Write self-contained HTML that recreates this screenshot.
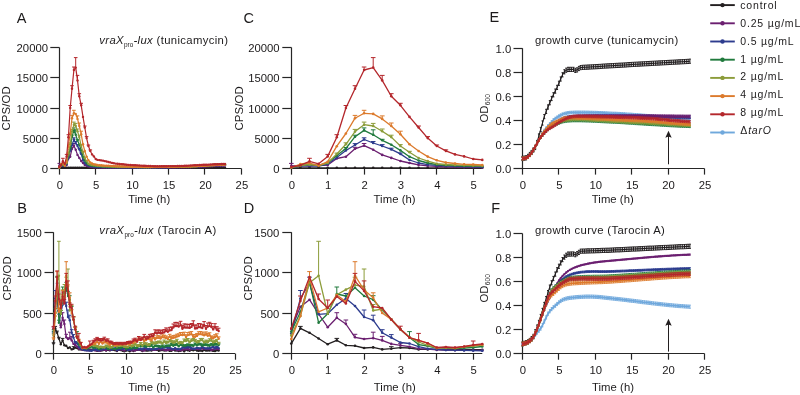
<!DOCTYPE html>
<html><head><meta charset="utf-8"><style>
html,body{margin:0;padding:0;background:#fff;width:800px;height:395px;overflow:hidden}
svg{display:block;font-family:"Liberation Sans",sans-serif;will-change:transform}
text{font-family:"Liberation Sans",sans-serif}
</style></head><body>
<svg width="800" height="395" viewBox="0 0 800 395" font-family="Liberation Sans, sans-serif">
<rect width="800" height="395" fill="#fff"/>
<defs><marker id="c231f2012" markerUnits="userSpaceOnUse" markerWidth="10" markerHeight="10" refX="5" refY="5" overflow="visible"><circle cx="5" cy="5" r="1.2" fill="#231f20"/></marker><marker id="c6b1f7012" markerUnits="userSpaceOnUse" markerWidth="10" markerHeight="10" refX="5" refY="5" overflow="visible"><circle cx="5" cy="5" r="1.2" fill="#6b1f70"/></marker><marker id="c2d3c8e12" markerUnits="userSpaceOnUse" markerWidth="10" markerHeight="10" refX="5" refY="5" overflow="visible"><circle cx="5" cy="5" r="1.2" fill="#2d3c8e"/></marker><marker id="c207a3d12" markerUnits="userSpaceOnUse" markerWidth="10" markerHeight="10" refX="5" refY="5" overflow="visible"><circle cx="5" cy="5" r="1.2" fill="#207a3d"/></marker><marker id="c8c9c3a12" markerUnits="userSpaceOnUse" markerWidth="10" markerHeight="10" refX="5" refY="5" overflow="visible"><circle cx="5" cy="5" r="1.2" fill="#8c9c3a"/></marker><marker id="cdc7a2c12" markerUnits="userSpaceOnUse" markerWidth="10" markerHeight="10" refX="5" refY="5" overflow="visible"><circle cx="5" cy="5" r="1.2" fill="#dc7a2c"/></marker><marker id="cb4272c12" markerUnits="userSpaceOnUse" markerWidth="10" markerHeight="10" refX="5" refY="5" overflow="visible"><circle cx="5" cy="5" r="1.2" fill="#b4272c"/></marker><marker id="c231f2013" markerUnits="userSpaceOnUse" markerWidth="10" markerHeight="10" refX="5" refY="5" overflow="visible"><circle cx="5" cy="5" r="1.3" fill="#231f20"/></marker><marker id="c6b1f7013" markerUnits="userSpaceOnUse" markerWidth="10" markerHeight="10" refX="5" refY="5" overflow="visible"><circle cx="5" cy="5" r="1.3" fill="#6b1f70"/></marker><marker id="c2d3c8e13" markerUnits="userSpaceOnUse" markerWidth="10" markerHeight="10" refX="5" refY="5" overflow="visible"><circle cx="5" cy="5" r="1.3" fill="#2d3c8e"/></marker><marker id="c207a3d13" markerUnits="userSpaceOnUse" markerWidth="10" markerHeight="10" refX="5" refY="5" overflow="visible"><circle cx="5" cy="5" r="1.3" fill="#207a3d"/></marker><marker id="c8c9c3a13" markerUnits="userSpaceOnUse" markerWidth="10" markerHeight="10" refX="5" refY="5" overflow="visible"><circle cx="5" cy="5" r="1.3" fill="#8c9c3a"/></marker><marker id="cdc7a2c13" markerUnits="userSpaceOnUse" markerWidth="10" markerHeight="10" refX="5" refY="5" overflow="visible"><circle cx="5" cy="5" r="1.3" fill="#dc7a2c"/></marker><marker id="cb4272c13" markerUnits="userSpaceOnUse" markerWidth="10" markerHeight="10" refX="5" refY="5" overflow="visible"><circle cx="5" cy="5" r="1.3" fill="#b4272c"/></marker><marker id="l6fa8dc130909" markerUnits="userSpaceOnUse" markerWidth="10" markerHeight="10" refX="5" refY="5" overflow="visible"><path d="M5 3.7V6.3M4.1 3.7H5.9M4.1 6.3H5.9" fill="none" stroke="#6fa8dc" stroke-width="0.9"/></marker><marker id="l231f202109510" markerUnits="userSpaceOnUse" markerWidth="10" markerHeight="10" refX="5" refY="5" overflow="visible"><path d="M5 2.9V7.1M4 2.9H6M4 7.1H6" fill="none" stroke="#231f20" stroke-width="1.0"/></marker><marker id="l2d3c8e130909" markerUnits="userSpaceOnUse" markerWidth="10" markerHeight="10" refX="5" refY="5" overflow="visible"><path d="M5 3.7V6.3M4.1 3.7H5.9M4.1 6.3H5.9" fill="none" stroke="#2d3c8e" stroke-width="0.9"/></marker><marker id="l6b1f70130909" markerUnits="userSpaceOnUse" markerWidth="10" markerHeight="10" refX="5" refY="5" overflow="visible"><path d="M5 3.7V6.3M4.1 3.7H5.9M4.1 6.3H5.9" fill="none" stroke="#6b1f70" stroke-width="0.9"/></marker><marker id="l207a3d130909" markerUnits="userSpaceOnUse" markerWidth="10" markerHeight="10" refX="5" refY="5" overflow="visible"><path d="M5 3.7V6.3M4.1 3.7H5.9M4.1 6.3H5.9" fill="none" stroke="#207a3d" stroke-width="0.9"/></marker><marker id="l8c9c3a130909" markerUnits="userSpaceOnUse" markerWidth="10" markerHeight="10" refX="5" refY="5" overflow="visible"><path d="M5 3.7V6.3M4.1 3.7H5.9M4.1 6.3H5.9" fill="none" stroke="#8c9c3a" stroke-width="0.9"/></marker><marker id="ldc7a2c130909" markerUnits="userSpaceOnUse" markerWidth="10" markerHeight="10" refX="5" refY="5" overflow="visible"><path d="M5 3.7V6.3M4.1 3.7H5.9M4.1 6.3H5.9" fill="none" stroke="#dc7a2c" stroke-width="0.9"/></marker><marker id="lb4272c130909" markerUnits="userSpaceOnUse" markerWidth="10" markerHeight="10" refX="5" refY="5" overflow="visible"><path d="M5 3.7V6.3M4.1 3.7H5.9M4.1 6.3H5.9" fill="none" stroke="#b4272c" stroke-width="0.9"/></marker><marker id="l6fa8dc160909" markerUnits="userSpaceOnUse" markerWidth="10" markerHeight="10" refX="5" refY="5" overflow="visible"><path d="M5 3.4V6.6M4.1 3.4H5.9M4.1 6.6H5.9" fill="none" stroke="#6fa8dc" stroke-width="0.9"/></marker><marker id="l2d3c8e090909" markerUnits="userSpaceOnUse" markerWidth="10" markerHeight="10" refX="5" refY="5" overflow="visible"><path d="M5 4.1V5.9M4.1 4.1H5.9M4.1 5.9H5.9" fill="none" stroke="#2d3c8e" stroke-width="0.9"/></marker><marker id="l6b1f70060909" markerUnits="userSpaceOnUse" markerWidth="10" markerHeight="10" refX="5" refY="5" overflow="visible"><path d="M5 4.4V5.6M4.1 4.4H5.9M4.1 5.6H5.9" fill="none" stroke="#6b1f70" stroke-width="0.9"/></marker><marker id="l207a3d170909" markerUnits="userSpaceOnUse" markerWidth="10" markerHeight="10" refX="5" refY="5" overflow="visible"><path d="M5 3.3V6.7M4.1 3.3H5.9M4.1 6.7H5.9" fill="none" stroke="#207a3d" stroke-width="0.9"/></marker><marker id="l8c9c3a170909" markerUnits="userSpaceOnUse" markerWidth="10" markerHeight="10" refX="5" refY="5" overflow="visible"><path d="M5 3.3V6.7M4.1 3.3H5.9M4.1 6.7H5.9" fill="none" stroke="#8c9c3a" stroke-width="0.9"/></marker><marker id="ldc7a2c170909" markerUnits="userSpaceOnUse" markerWidth="10" markerHeight="10" refX="5" refY="5" overflow="visible"><path d="M5 3.3V6.7M4.1 3.3H5.9M4.1 6.7H5.9" fill="none" stroke="#dc7a2c" stroke-width="0.9"/></marker><marker id="lb4272c170909" markerUnits="userSpaceOnUse" markerWidth="10" markerHeight="10" refX="5" refY="5" overflow="visible"><path d="M5 3.3V6.7M4.1 3.3H5.9M4.1 6.7H5.9" fill="none" stroke="#b4272c" stroke-width="0.9"/></marker></defs>
<text x="16.8" y="22.8" font-size="14.5" fill="#1c1a1b">A</text>
<text x="243.6" y="22.5" font-size="14.5" fill="#1c1a1b">C</text>
<text x="489.6" y="22.4" font-size="14.5" fill="#1c1a1b">E</text>
<text x="17.3" y="213" font-size="14.5" fill="#1c1a1b">B</text>
<text x="243.8" y="213" font-size="14.5" fill="#1c1a1b">D</text>
<text x="491.3" y="212.8" font-size="14.5" fill="#1c1a1b">F</text>
<g stroke="#262626" stroke-width="1.2" fill="none">
<path d="M59.5 47.5V168.5H241.4"/>
<path d="M50.3 168.5H59.5"/>
<path d="M50.3 138.5H59.5"/>
<path d="M50.3 108.5H59.5"/>
<path d="M50.3 77.5H59.5"/>
<path d="M50.3 47.5H59.5"/>
<path d="M59.5 168.5V174.6"/>
<path d="M95.5 168.5V174.6"/>
<path d="M132.5 168.5V174.6"/>
<path d="M168.5 168.5V174.6"/>
<path d="M204.5 168.5V174.6"/>
<path d="M241.5 168.5V174.6"/>
</g>
<g fill="#1c1a1b" font-size="11.3">
<text x="48" y="173.2" text-anchor="end">0</text>
<text x="48" y="142.9" text-anchor="end">5000</text>
<text x="48" y="112.6" text-anchor="end">10000</text>
<text x="48" y="82.4" text-anchor="end">15000</text>
<text x="48" y="52.1" text-anchor="end">20000</text>
<text x="59.8" y="189.2" text-anchor="middle">0</text>
<text x="96.2" y="189.2" text-anchor="middle">5</text>
<text x="132.6" y="189.2" text-anchor="middle">10</text>
<text x="169.1" y="189.2" text-anchor="middle">15</text>
<text x="205.5" y="189.2" text-anchor="middle">20</text>
<text x="241.9" y="189.2" text-anchor="middle">25</text>
</g>
<text transform="translate(9.9 108.3) rotate(-90)" text-anchor="middle" font-size="11.4" letter-spacing="0.15" fill="#1c1a1b">CPS/OD</text>
<text x="99.3" y="43.7" font-size="11.3" letter-spacing="0.35" fill="#1c1a1b"><tspan font-style="italic">vraX</tspan><tspan font-size="6.4" dy="3.2" letter-spacing="0.1">pro</tspan><tspan font-style="italic" dy="-3.2">-lux</tspan> (tunicamycin)</text>
<text x="128.2" y="202.5" font-size="11.3" letter-spacing="0.05" fill="#1c1a1b">Time (h)</text>
<path d="M59.3 167.8 L61.1 167.8 L62.9 167.8 L64.8 167.8 L66.6 167.8 L68.4 167.8 L70.2 167.8 L72 167.8 L73.9 167.8 L75.7 167.8 L77.5 167.8 L79.3 167.8 L81.2 167.8 L83 167.8 L84.8 167.8 L86.6 167.8 L88.4 167.8 L90.3 167.8 L92.1 167.8 L93.9 167.8 L95.7 167.8 L97.5 167.8 L99.4 167.8 L101.2 167.8 L103 167.8 L104.8 167.8 L106.6 167.8 L108.5 167.8 L110.3 167.8 L112.1 167.8 L113.9 167.8 L115.8 167.8 L117.6 167.8 L119.4 167.8 L121.2 167.8 L123 167.8 L124.9 167.8 L126.7 167.8 L128.5 167.8 L130.3 167.8 L132.1 167.8 L134 167.8 L135.8 167.8 L137.6 167.8 L139.4 167.8 L141.2 167.8 L143.1 167.8 L144.9 167.8 L146.7 167.8 L148.5 167.8 L150.3 167.8 L152.2 167.8 L154 167.8 L155.8 167.8 L157.6 167.8 L159.5 167.8 L161.3 167.8 L163.1 167.8 L164.9 167.8 L166.7 167.8 L168.6 167.8 L170.4 167.8 L172.2 167.8 L174 167.8 L175.8 167.8 L177.7 167.8 L179.5 167.8 L181.3 167.8 L183.1 167.8 L184.9 167.8 L186.8 167.8 L188.6 167.8 L190.4 167.8 L192.2 167.8 L194.1 167.8 L195.9 167.8 L197.7 167.8 L199.5 167.8 L201.3 167.8 L203.2 167.8 L205 167.8 L206.8 167.8 L208.6 167.8 L210.4 167.8 L212.3 167.8 L214.1 167.8 L215.9 167.8 L217.7 167.8 L219.5 167.8 L221.4 167.8 L223.2 167.8 L225 167.8" fill="none" stroke="#231f20" stroke-width="1.2" stroke-linejoin="round"/>
<path d="M59.3 167.8 L61.1 167.8 L62.9 167.8 L64.8 167.8 L66.6 167.8 L68.4 167.8 L70.2 167.8 L72 167.8 L73.9 167.8 L75.7 167.8 L77.5 167.8 L79.3 167.8 L81.2 167.8 L83 167.8 L84.8 167.8 L86.6 167.8 L88.4 167.8 L90.3 167.8 L92.1 167.8 L93.9 167.8 L95.7 167.8 L97.5 167.8 L99.4 167.8 L101.2 167.8 L103 167.8 L104.8 167.8 L106.6 167.8 L108.5 167.8 L110.3 167.8 L112.1 167.8 L113.9 167.8 L115.8 167.8 L117.6 167.8 L119.4 167.8 L121.2 167.8 L123 167.8 L124.9 167.8 L126.7 167.8 L128.5 167.8 L130.3 167.8 L132.1 167.8 L134 167.8 L135.8 167.8 L137.6 167.8 L139.4 167.8 L141.2 167.8 L143.1 167.8 L144.9 167.8 L146.7 167.8 L148.5 167.8 L150.3 167.8 L152.2 167.8 L154 167.8 L155.8 167.8 L157.6 167.8 L159.5 167.8 L161.3 167.8 L163.1 167.8 L164.9 167.8 L166.7 167.8 L168.6 167.8 L170.4 167.8 L172.2 167.8 L174 167.8 L175.8 167.8 L177.7 167.8 L179.5 167.8 L181.3 167.8 L183.1 167.8 L184.9 167.8 L186.8 167.8 L188.6 167.8 L190.4 167.8 L192.2 167.8 L194.1 167.8 L195.9 167.8 L197.7 167.8 L199.5 167.8 L201.3 167.8 L203.2 167.8 L205 167.8 L206.8 167.8 L208.6 167.8 L210.4 167.8 L212.3 167.8 L214.1 167.8 L215.9 167.8 L217.7 167.8 L219.5 167.8 L221.4 167.8 L223.2 167.8 L225 167.8" fill="none" stroke="none" marker-start="url(#c231f2012)" marker-mid="url(#c231f2012)" marker-end="url(#c231f2012)"/>
<path d="M59.3 166 L61.1 165.7 L62.9 166 L64.8 165.7 L66.6 165 L68.4 158.5 L70.2 156.7 L72 148.8 L73.9 145.7 L75.7 149.7 L77.5 154.9 L79.3 157.9 L81.2 161 L83 163 L84.8 164.9 L86.6 165.8 L88.4 166.4 L90.3 166.8 L92.1 167 L93.9 167.2 L95.7 167.3 L97.5 167.4 L99.4 167.4 L101.2 167.5 L103 167.5 L104.8 167.5 L106.6 167.5 L108.5 167.5 L110.3 167.6 L112.1 167.6 L113.9 167.6 L115.8 167.6 L117.6 167.6 L119.4 167.6 L121.2 167.6 L123 167.6 L124.9 167.6 L126.7 167.6 L128.5 167.6 L130.3 167.6 L132.1 167.6 L134 167.7 L135.8 167.7 L137.6 167.7 L139.4 167.7 L141.2 167.7 L143.1 167.7 L144.9 167.7 L146.7 167.7 L148.5 167.7 L150.3 167.7 L152.2 167.6 L154 167.6 L155.8 167.6 L157.6 167.6 L159.5 167.6 L161.3 167.5 L163.1 167.5 L164.9 167.5 L166.7 167.5 L168.6 167.4 L170.4 167.4 L172.2 167.4 L174 167.4 L175.8 167.4 L177.7 167.3 L179.5 167.3 L181.3 167.3 L183.1 167.3 L184.9 167.3 L186.8 167.2 L188.6 167.2 L190.4 167.2 L192.2 167.1 L194.1 167 L195.9 166.9 L197.7 166.9 L199.5 166.8 L201.3 166.7 L203.2 166.6 L205 166.5 L206.8 166.4 L208.6 166.3 L210.4 166.2 L212.3 166.2 L214.1 166.1 L215.9 166 L217.7 165.9 L219.5 165.8 L221.4 165.7 L223.2 165.6 L225 165.6" fill="none" stroke="#6b1f70" stroke-width="1.2" stroke-linejoin="round"/>
<path d="M59.3 166V163.4M57.5 163.4H61.1M72 148.8V147.3M70.2 147.3H73.8M73.9 145.7V143.5M72.1 143.5H75.7" fill="none" stroke="#6b1f70" stroke-width="1"/>
<path d="M59.3 166 L61.1 165.7 L62.9 166 L64.8 165.7 L66.6 165 L68.4 158.5 L70.2 156.7 L72 148.8 L73.9 145.7 L75.7 149.7 L77.5 154.9 L79.3 157.9 L81.2 161 L83 163 L84.8 164.9 L86.6 165.8 L88.4 166.4 L90.3 166.8 L92.1 167 L93.9 167.2 L95.7 167.3 L97.5 167.4 L99.4 167.4 L101.2 167.5 L103 167.5 L104.8 167.5 L106.6 167.5 L108.5 167.5 L110.3 167.6 L112.1 167.6 L113.9 167.6 L115.8 167.6 L117.6 167.6 L119.4 167.6 L121.2 167.6 L123 167.6 L124.9 167.6 L126.7 167.6 L128.5 167.6 L130.3 167.6 L132.1 167.6 L134 167.7 L135.8 167.7 L137.6 167.7 L139.4 167.7 L141.2 167.7 L143.1 167.7 L144.9 167.7 L146.7 167.7 L148.5 167.7 L150.3 167.7 L152.2 167.6 L154 167.6 L155.8 167.6 L157.6 167.6 L159.5 167.6 L161.3 167.5 L163.1 167.5 L164.9 167.5 L166.7 167.5 L168.6 167.4 L170.4 167.4 L172.2 167.4 L174 167.4 L175.8 167.4 L177.7 167.3 L179.5 167.3 L181.3 167.3 L183.1 167.3 L184.9 167.3 L186.8 167.2 L188.6 167.2 L190.4 167.2 L192.2 167.1 L194.1 167 L195.9 166.9 L197.7 166.9 L199.5 166.8 L201.3 166.7 L203.2 166.6 L205 166.5 L206.8 166.4 L208.6 166.3 L210.4 166.2 L212.3 166.2 L214.1 166.1 L215.9 166 L217.7 165.9 L219.5 165.8 L221.4 165.7 L223.2 165.6 L225 165.6" fill="none" stroke="none" marker-start="url(#c6b1f7012)" marker-mid="url(#c6b1f7012)" marker-end="url(#c6b1f7012)"/>
<path d="M59.3 167.5 L61.1 166 L62.9 165.5 L64.8 166 L66.6 164 L68.4 157.5 L70.2 150.5 L72 145 L73.9 139.5 L75.7 143 L77.5 146 L79.3 149.4 L81.2 153.9 L83 160 L84.8 163 L86.6 164.6 L88.4 165.4 L90.3 165.9 L92.1 166.3 L93.9 166.6 L95.7 166.8 L97.5 167 L99.4 167 L101.2 167.1 L103 167.1 L104.8 167.1 L106.6 167.2 L108.5 167.2 L110.3 167.2 L112.1 167.3 L113.9 167.3 L115.8 167.4 L117.6 167.4 L119.4 167.4 L121.2 167.4 L123 167.4 L124.9 167.4 L126.7 167.4 L128.5 167.4 L130.3 167.4 L132.1 167.4 L134 167.5 L135.8 167.5 L137.6 167.5 L139.4 167.5 L141.2 167.5 L143.1 167.5 L144.9 167.5 L146.7 167.5 L148.5 167.5 L150.3 167.4 L152.2 167.4 L154 167.4 L155.8 167.4 L157.6 167.3 L159.5 167.3 L161.3 167.3 L163.1 167.2 L164.9 167.2 L166.7 167.2 L168.6 167.2 L170.4 167.1 L172.2 167.1 L174 167.1 L175.8 167 L177.7 167 L179.5 167 L181.3 166.9 L183.1 166.9 L184.9 166.9 L186.8 166.9 L188.6 166.8 L190.4 166.8 L192.2 166.7 L194.1 166.6 L195.9 166.5 L197.7 166.4 L199.5 166.3 L201.3 166.2 L203.2 166.1 L205 166 L206.8 165.9 L208.6 165.8 L210.4 165.7 L212.3 165.6 L214.1 165.5 L215.9 165.4 L217.7 165.3 L219.5 165.2 L221.4 165.1 L223.2 165 L225 164.9" fill="none" stroke="#2d3c8e" stroke-width="1.2" stroke-linejoin="round"/>
<path d="M70.2 150.5V149.4M68.4 149.4H72M72 145V143.6M70.2 143.6H73.8M73.9 139.5V137.8M72.1 137.8H75.7M75.7 143V141.5M73.9 141.5H77.5M77.5 146V144.6M75.7 144.6H79.3M79.3 149.4V148.2M77.5 148.2H81.1M81.2 153.9V153M79.4 153H83" fill="none" stroke="#2d3c8e" stroke-width="1"/>
<path d="M59.3 167.5 L61.1 166 L62.9 165.5 L64.8 166 L66.6 164 L68.4 157.5 L70.2 150.5 L72 145 L73.9 139.5 L75.7 143 L77.5 146 L79.3 149.4 L81.2 153.9 L83 160 L84.8 163 L86.6 164.6 L88.4 165.4 L90.3 165.9 L92.1 166.3 L93.9 166.6 L95.7 166.8 L97.5 167 L99.4 167 L101.2 167.1 L103 167.1 L104.8 167.1 L106.6 167.2 L108.5 167.2 L110.3 167.2 L112.1 167.3 L113.9 167.3 L115.8 167.4 L117.6 167.4 L119.4 167.4 L121.2 167.4 L123 167.4 L124.9 167.4 L126.7 167.4 L128.5 167.4 L130.3 167.4 L132.1 167.4 L134 167.5 L135.8 167.5 L137.6 167.5 L139.4 167.5 L141.2 167.5 L143.1 167.5 L144.9 167.5 L146.7 167.5 L148.5 167.5 L150.3 167.4 L152.2 167.4 L154 167.4 L155.8 167.4 L157.6 167.3 L159.5 167.3 L161.3 167.3 L163.1 167.2 L164.9 167.2 L166.7 167.2 L168.6 167.2 L170.4 167.1 L172.2 167.1 L174 167.1 L175.8 167 L177.7 167 L179.5 167 L181.3 166.9 L183.1 166.9 L184.9 166.9 L186.8 166.9 L188.6 166.8 L190.4 166.8 L192.2 166.7 L194.1 166.6 L195.9 166.5 L197.7 166.4 L199.5 166.3 L201.3 166.2 L203.2 166.1 L205 166 L206.8 165.9 L208.6 165.8 L210.4 165.7 L212.3 165.6 L214.1 165.5 L215.9 165.4 L217.7 165.3 L219.5 165.2 L221.4 165.1 L223.2 165 L225 164.9" fill="none" stroke="none" marker-start="url(#c2d3c8e12)" marker-mid="url(#c2d3c8e12)" marker-end="url(#c2d3c8e12)"/>
<path d="M59.3 167.5 L61.1 165.7 L62.9 164.4 L64.8 165.5 L66.6 163 L68.4 155.5 L70.2 148.5 L72 136.7 L73.9 130.4 L75.7 134.8 L77.5 140.3 L79.3 144.7 L81.2 150.4 L83 156.7 L84.8 160.5 L86.6 163 L88.4 164.6 L90.3 165.3 L92.1 165.6 L93.9 166 L95.7 166 L97.5 166.2 L99.4 166.3 L101.2 166.4 L103 166.5 L104.8 166.6 L106.6 166.6 L108.5 166.7 L110.3 166.8 L112.1 166.8 L113.9 166.9 L115.8 166.9 L117.6 167 L119.4 167 L121.2 167 L123 167 L124.9 167.1 L126.7 167.1 L128.5 167.1 L130.3 167.1 L132.1 167.1 L134 167.1 L135.8 167.1 L137.6 167.1 L139.4 167.1 L141.2 167.2 L143.1 167.2 L144.9 167.2 L146.7 167.2 L148.5 167.2 L150.3 167.1 L152.2 167.1 L154 167.1 L155.8 167.1 L157.6 167 L159.5 167 L161.3 167 L163.1 167 L164.9 166.9 L166.7 166.9 L168.6 166.9 L170.4 166.9 L172.2 166.8 L174 166.8 L175.8 166.8 L177.7 166.8 L179.5 166.8 L181.3 166.7 L183.1 166.7 L184.9 166.7 L186.8 166.7 L188.6 166.6 L190.4 166.6 L192.2 166.5 L194.1 166.3 L195.9 166.2 L197.7 166.1 L199.5 165.9 L201.3 165.8 L203.2 165.7 L205 165.5 L206.8 165.4 L208.6 165.3 L210.4 165.1 L212.3 165 L214.1 164.9 L215.9 164.7 L217.7 164.6 L219.5 164.5 L221.4 164.3 L223.2 164.2 L225 164.1" fill="none" stroke="#207a3d" stroke-width="1.2" stroke-linejoin="round"/>
<path d="M70.2 148.5V147.5M68.4 147.5H72M72 136.7V135.2M70.2 135.2H73.8M73.9 130.4V127.9M72.1 127.9H75.7M75.7 134.8V129.8M73.9 129.8H77.5M77.5 140.3V139.3M75.7 139.3H79.3" fill="none" stroke="#207a3d" stroke-width="1"/>
<path d="M59.3 167.5 L61.1 165.7 L62.9 164.4 L64.8 165.5 L66.6 163 L68.4 155.5 L70.2 148.5 L72 136.7 L73.9 130.4 L75.7 134.8 L77.5 140.3 L79.3 144.7 L81.2 150.4 L83 156.7 L84.8 160.5 L86.6 163 L88.4 164.6 L90.3 165.3 L92.1 165.6 L93.9 166 L95.7 166 L97.5 166.2 L99.4 166.3 L101.2 166.4 L103 166.5 L104.8 166.6 L106.6 166.6 L108.5 166.7 L110.3 166.8 L112.1 166.8 L113.9 166.9 L115.8 166.9 L117.6 167 L119.4 167 L121.2 167 L123 167 L124.9 167.1 L126.7 167.1 L128.5 167.1 L130.3 167.1 L132.1 167.1 L134 167.1 L135.8 167.1 L137.6 167.1 L139.4 167.1 L141.2 167.2 L143.1 167.2 L144.9 167.2 L146.7 167.2 L148.5 167.2 L150.3 167.1 L152.2 167.1 L154 167.1 L155.8 167.1 L157.6 167 L159.5 167 L161.3 167 L163.1 167 L164.9 166.9 L166.7 166.9 L168.6 166.9 L170.4 166.9 L172.2 166.8 L174 166.8 L175.8 166.8 L177.7 166.8 L179.5 166.8 L181.3 166.7 L183.1 166.7 L184.9 166.7 L186.8 166.7 L188.6 166.6 L190.4 166.6 L192.2 166.5 L194.1 166.3 L195.9 166.2 L197.7 166.1 L199.5 165.9 L201.3 165.8 L203.2 165.7 L205 165.5 L206.8 165.4 L208.6 165.3 L210.4 165.1 L212.3 165 L214.1 164.9 L215.9 164.7 L217.7 164.6 L219.5 164.5 L221.4 164.3 L223.2 164.2 L225 164.1" fill="none" stroke="none" marker-start="url(#c207a3d12)" marker-mid="url(#c207a3d12)" marker-end="url(#c207a3d12)"/>
<path d="M59.3 167.5 L61.1 165.5 L62.9 164.5 L64.8 165.5 L66.6 163 L68.4 154 L70.2 144.3 L72 131.6 L73.9 124.7 L75.7 126 L77.5 131.2 L79.3 137.1 L81.2 146 L83 152.3 L84.8 158 L86.6 161.1 L88.4 163.7 L90.3 164.5 L92.1 165 L93.9 165.3 L95.7 165.5 L97.5 165.8 L99.4 165.9 L101.2 166.1 L103 166.2 L104.8 166.3 L106.6 166.3 L108.5 166.4 L110.3 166.4 L112.1 166.5 L113.9 166.6 L115.8 166.6 L117.6 166.7 L119.4 166.7 L121.2 166.8 L123 166.8 L124.9 166.8 L126.7 166.8 L128.5 166.8 L130.3 166.9 L132.1 166.9 L134 166.9 L135.8 166.9 L137.6 167 L139.4 167 L141.2 167 L143.1 167 L144.9 167.1 L146.7 167.1 L148.5 167.1 L150.3 167 L152.2 167 L154 167 L155.8 167 L157.6 166.9 L159.5 166.9 L161.3 166.9 L163.1 166.9 L164.9 166.8 L166.7 166.8 L168.6 166.8 L170.4 166.8 L172.2 166.8 L174 166.7 L175.8 166.7 L177.7 166.7 L179.5 166.7 L181.3 166.6 L183.1 166.6 L184.9 166.6 L186.8 166.6 L188.6 166.5 L190.4 166.5 L192.2 166.4 L194.1 166.3 L195.9 166.2 L197.7 166.1 L199.5 165.9 L201.3 165.8 L203.2 165.7 L205 165.6 L206.8 165.5 L208.6 165.4 L210.4 165.3 L212.3 165.2 L214.1 165 L215.9 164.9 L217.7 164.8 L219.5 164.7 L221.4 164.6 L223.2 164.5 L225 164.4" fill="none" stroke="#8c9c3a" stroke-width="1.2" stroke-linejoin="round"/>
<path d="M68.4 154V153.1M66.6 153.1H70.2M70.2 144.3V142.8M68.4 142.8H72M72 131.6V129.4M70.2 129.4H73.8M73.9 124.7V122.1M72.1 122.1H75.7M75.7 126V123.4M73.9 123.4H77.5M77.5 131.2V129M75.7 129H79.3M79.3 137.1V135.2M77.5 135.2H81.1M81.2 146V144.6M79.4 144.6H83M83 152.3V151.3M81.2 151.3H84.8" fill="none" stroke="#8c9c3a" stroke-width="1"/>
<path d="M59.3 167.5 L61.1 165.5 L62.9 164.5 L64.8 165.5 L66.6 163 L68.4 154 L70.2 144.3 L72 131.6 L73.9 124.7 L75.7 126 L77.5 131.2 L79.3 137.1 L81.2 146 L83 152.3 L84.8 158 L86.6 161.1 L88.4 163.7 L90.3 164.5 L92.1 165 L93.9 165.3 L95.7 165.5 L97.5 165.8 L99.4 165.9 L101.2 166.1 L103 166.2 L104.8 166.3 L106.6 166.3 L108.5 166.4 L110.3 166.4 L112.1 166.5 L113.9 166.6 L115.8 166.6 L117.6 166.7 L119.4 166.7 L121.2 166.8 L123 166.8 L124.9 166.8 L126.7 166.8 L128.5 166.8 L130.3 166.9 L132.1 166.9 L134 166.9 L135.8 166.9 L137.6 167 L139.4 167 L141.2 167 L143.1 167 L144.9 167.1 L146.7 167.1 L148.5 167.1 L150.3 167 L152.2 167 L154 167 L155.8 167 L157.6 166.9 L159.5 166.9 L161.3 166.9 L163.1 166.9 L164.9 166.8 L166.7 166.8 L168.6 166.8 L170.4 166.8 L172.2 166.8 L174 166.7 L175.8 166.7 L177.7 166.7 L179.5 166.7 L181.3 166.6 L183.1 166.6 L184.9 166.6 L186.8 166.6 L188.6 166.5 L190.4 166.5 L192.2 166.4 L194.1 166.3 L195.9 166.2 L197.7 166.1 L199.5 165.9 L201.3 165.8 L203.2 165.7 L205 165.6 L206.8 165.5 L208.6 165.4 L210.4 165.3 L212.3 165.2 L214.1 165 L215.9 164.9 L217.7 164.8 L219.5 164.7 L221.4 164.6 L223.2 164.5 L225 164.4" fill="none" stroke="none" marker-start="url(#c8c9c3a12)" marker-mid="url(#c8c9c3a12)" marker-end="url(#c8c9c3a12)"/>
<path d="M59.3 167.5 L61.1 164 L62.9 163 L64.8 165.7 L66.6 161.7 L68.4 146.2 L70.2 133.5 L72 118.2 L73.9 113.3 L75.7 113.9 L77.5 118.9 L79.3 126 L81.2 134.2 L83 144.3 L84.8 151 L86.6 156.6 L88.4 160.3 L90.3 162.5 L92.1 163.5 L93.9 164.3 L95.7 164.5 L97.5 165 L99.4 165.2 L101.2 165.3 L103 165.5 L104.8 165.6 L106.6 165.7 L108.5 165.8 L110.3 165.9 L112.1 166 L113.9 166.1 L115.8 166.2 L117.6 166.3 L119.4 166.3 L121.2 166.4 L123 166.4 L124.9 166.5 L126.7 166.5 L128.5 166.6 L130.3 166.6 L132.1 166.7 L134 166.7 L135.8 166.7 L137.6 166.8 L139.4 166.8 L141.2 166.9 L143.1 166.9 L144.9 167 L146.7 167 L148.5 167 L150.3 167 L152.2 166.9 L154 166.9 L155.8 166.9 L157.6 166.9 L159.5 166.9 L161.3 166.8 L163.1 166.8 L164.9 166.8 L166.7 166.8 L168.6 166.8 L170.4 166.7 L172.2 166.7 L174 166.7 L175.8 166.7 L177.7 166.6 L179.5 166.6 L181.3 166.6 L183.1 166.6 L184.9 166.6 L186.8 166.5 L188.6 166.5 L190.4 166.5 L192.2 166.4 L194.1 166.3 L195.9 166.2 L197.7 166.1 L199.5 166 L201.3 165.9 L203.2 165.8 L205 165.7 L206.8 165.6 L208.6 165.5 L210.4 165.4 L212.3 165.3 L214.1 165.2 L215.9 165.1 L217.7 165 L219.5 164.9 L221.4 164.8 L223.2 164.7 L225 164.6" fill="none" stroke="#dc7a2c" stroke-width="1.2" stroke-linejoin="round"/>
<path d="M72 118.2V115.4M70.2 115.4H73.8M73.9 113.3V110.3M72.1 110.3H75.7M77.5 118.9V115.9M75.7 115.9H79.3M79.3 126V123M77.5 123H81.1M81.2 134.2V131.2M79.4 131.2H83" fill="none" stroke="#dc7a2c" stroke-width="1"/>
<path d="M59.3 167.5 L61.1 164 L62.9 163 L64.8 165.7 L66.6 161.7 L68.4 146.2 L70.2 133.5 L72 118.2 L73.9 113.3 L75.7 113.9 L77.5 118.9 L79.3 126 L81.2 134.2 L83 144.3 L84.8 151 L86.6 156.6 L88.4 160.3 L90.3 162.5 L92.1 163.5 L93.9 164.3 L95.7 164.5 L97.5 165 L99.4 165.2 L101.2 165.3 L103 165.5 L104.8 165.6 L106.6 165.7 L108.5 165.8 L110.3 165.9 L112.1 166 L113.9 166.1 L115.8 166.2 L117.6 166.3 L119.4 166.3 L121.2 166.4 L123 166.4 L124.9 166.5 L126.7 166.5 L128.5 166.6 L130.3 166.6 L132.1 166.7 L134 166.7 L135.8 166.7 L137.6 166.8 L139.4 166.8 L141.2 166.9 L143.1 166.9 L144.9 167 L146.7 167 L148.5 167 L150.3 167 L152.2 166.9 L154 166.9 L155.8 166.9 L157.6 166.9 L159.5 166.9 L161.3 166.8 L163.1 166.8 L164.9 166.8 L166.7 166.8 L168.6 166.8 L170.4 166.7 L172.2 166.7 L174 166.7 L175.8 166.7 L177.7 166.6 L179.5 166.6 L181.3 166.6 L183.1 166.6 L184.9 166.6 L186.8 166.5 L188.6 166.5 L190.4 166.5 L192.2 166.4 L194.1 166.3 L195.9 166.2 L197.7 166.1 L199.5 166 L201.3 165.9 L203.2 165.8 L205 165.7 L206.8 165.6 L208.6 165.5 L210.4 165.4 L212.3 165.3 L214.1 165.2 L215.9 165.1 L217.7 165 L219.5 164.9 L221.4 164.8 L223.2 164.7 L225 164.6" fill="none" stroke="none" marker-start="url(#cdc7a2c12)" marker-mid="url(#cdc7a2c12)" marker-end="url(#cdc7a2c12)"/>
<path d="M59.3 167 L61.1 165.3 L62.9 161.3 L64.8 163.8 L66.6 156.4 L68.4 137.2 L70.2 108 L72 88.7 L73.9 70 L75.7 67.6 L77.5 80.4 L79.3 96.2 L81.2 105.3 L83 116.9 L84.8 127.5 L86.6 138.1 L88.4 146 L90.3 150.9 L92.1 154.4 L93.9 156.4 L95.7 159 L97.5 159.9 L99.4 160.1 L101.2 160.4 L103 160.6 L104.8 161.1 L106.6 161.5 L108.5 162 L110.3 162.4 L112.1 162.9 L113.9 163.3 L115.8 163.6 L117.6 163.8 L119.4 164 L121.2 164.1 L123 164.3 L124.9 164.5 L126.7 164.7 L128.5 164.9 L130.3 165 L132.1 165.1 L134 165.2 L135.8 165.3 L137.6 165.4 L139.4 165.5 L141.2 165.6 L143.1 165.7 L144.9 165.8 L146.7 165.9 L148.5 165.9 L150.3 166 L152.2 166.1 L154 166.2 L155.8 166.3 L157.6 166.3 L159.5 166.3 L161.3 166.2 L163.1 166.2 L164.9 166.2 L166.7 166.2 L168.6 166.1 L170.4 166.1 L172.2 166.1 L174 166.1 L175.8 166.1 L177.7 166 L179.5 166 L181.3 165.9 L183.1 165.9 L184.9 165.8 L186.8 165.7 L188.6 165.6 L190.4 165.5 L192.2 165.4 L194.1 165.3 L195.9 165.2 L197.7 165.1 L199.5 165 L201.3 164.9 L203.2 164.8 L205 164.8 L206.8 164.7 L208.6 164.6 L210.4 164.5 L212.3 164.4 L214.1 164.3 L215.9 164.3 L217.7 164.2 L219.5 164.1 L221.4 164 L223.2 163.9 L225 163.9" fill="none" stroke="#b4272c" stroke-width="1.2" stroke-linejoin="round"/>
<path d="M62.9 161.3V158.3M61.1 158.3H64.7M66.6 156.4V154.4M64.8 154.4H68.4M68.4 137.2V134.7M66.6 134.7H70.2M70.2 108V105.5M68.4 105.5H72M72 88.7V85.7M70.2 85.7H73.8M73.9 70V67M72.1 67H75.7M75.7 67.6V57.6M73.9 57.6H77.5M77.5 80.4V75.4M75.7 75.4H79.3M79.3 96.2V93.7M77.5 93.7H81.1M81.2 105.3V103.3M79.4 103.3H83M84.8 127.5V126M83 126H86.6M86.6 138.1V136.6M84.8 136.6H88.4M88.4 146V145M86.6 145H90.2M90.3 150.9V149.9M88.5 149.9H92.1" fill="none" stroke="#b4272c" stroke-width="1"/>
<path d="M59.3 167 L61.1 165.3 L62.9 161.3 L64.8 163.8 L66.6 156.4 L68.4 137.2 L70.2 108 L72 88.7 L73.9 70 L75.7 67.6 L77.5 80.4 L79.3 96.2 L81.2 105.3 L83 116.9 L84.8 127.5 L86.6 138.1 L88.4 146 L90.3 150.9 L92.1 154.4 L93.9 156.4 L95.7 159 L97.5 159.9 L99.4 160.1 L101.2 160.4 L103 160.6 L104.8 161.1 L106.6 161.5 L108.5 162 L110.3 162.4 L112.1 162.9 L113.9 163.3 L115.8 163.6 L117.6 163.8 L119.4 164 L121.2 164.1 L123 164.3 L124.9 164.5 L126.7 164.7 L128.5 164.9 L130.3 165 L132.1 165.1 L134 165.2 L135.8 165.3 L137.6 165.4 L139.4 165.5 L141.2 165.6 L143.1 165.7 L144.9 165.8 L146.7 165.9 L148.5 165.9 L150.3 166 L152.2 166.1 L154 166.2 L155.8 166.3 L157.6 166.3 L159.5 166.3 L161.3 166.2 L163.1 166.2 L164.9 166.2 L166.7 166.2 L168.6 166.1 L170.4 166.1 L172.2 166.1 L174 166.1 L175.8 166.1 L177.7 166 L179.5 166 L181.3 165.9 L183.1 165.9 L184.9 165.8 L186.8 165.7 L188.6 165.6 L190.4 165.5 L192.2 165.4 L194.1 165.3 L195.9 165.2 L197.7 165.1 L199.5 165 L201.3 164.9 L203.2 164.8 L205 164.8 L206.8 164.7 L208.6 164.6 L210.4 164.5 L212.3 164.4 L214.1 164.3 L215.9 164.3 L217.7 164.2 L219.5 164.1 L221.4 164 L223.2 163.9 L225 163.9" fill="none" stroke="none" marker-start="url(#cb4272c12)" marker-mid="url(#cb4272c12)" marker-end="url(#cb4272c12)"/>
<g stroke="#262626" stroke-width="1.2" fill="none">
<path d="M291.5 47.5V168.5H482.3"/>
<path d="M282.3 168.5H291.5"/>
<path d="M282.3 138.5H291.5"/>
<path d="M282.3 108.5H291.5"/>
<path d="M282.3 77.5H291.5"/>
<path d="M282.3 47.5H291.5"/>
<path d="M291.5 168.5V174.6"/>
<path d="M327.5 168.5V174.6"/>
<path d="M364.5 168.5V174.6"/>
<path d="M400.5 168.5V174.6"/>
<path d="M436.5 168.5V174.6"/>
<path d="M473.5 168.5V174.6"/>
</g>
<g fill="#1c1a1b" font-size="11.3">
<text x="279.6" y="173.2" text-anchor="end">0</text>
<text x="279.6" y="142.9" text-anchor="end">5000</text>
<text x="279.6" y="112.6" text-anchor="end">10000</text>
<text x="279.6" y="82.4" text-anchor="end">15000</text>
<text x="279.6" y="52.1" text-anchor="end">20000</text>
<text x="291.8" y="189.2" text-anchor="middle">0</text>
<text x="328.2" y="189.2" text-anchor="middle">1</text>
<text x="364.6" y="189.2" text-anchor="middle">2</text>
<text x="400.9" y="189.2" text-anchor="middle">3</text>
<text x="437.3" y="189.2" text-anchor="middle">4</text>
<text x="473.7" y="189.2" text-anchor="middle">5</text>
</g>
<text transform="translate(243.2 108.3) rotate(-90)" text-anchor="middle" font-size="11.4" letter-spacing="0.15" fill="#1c1a1b">CPS/OD</text>
<text x="373.6" y="202.5" font-size="11.3" letter-spacing="0.05" fill="#1c1a1b">Time (h)</text>
<path d="M291.3 167.8 L300.4 167.8 L309.5 167.8 L318.6 167.8 L327.7 167.8 L336.8 167.8 L345.9 167.8 L355 167.8 L364.1 167.8 L373.2 167.8 L382.2 167.8 L391.3 167.8 L400.4 167.8 L409.5 167.8 L418.6 167.8 L427.7 167.8 L436.8 167.8 L445.9 167.8 L455 167.8 L464.1 167.8 L473.2 167.8 L482.3 167.8" fill="none" stroke="#231f20" stroke-width="1.3" stroke-linejoin="round"/>
<path d="M291.3 167.8 L300.4 167.8 L309.5 167.8 L318.6 167.8 L327.7 167.8 L336.8 167.8 L345.9 167.8 L355 167.8 L364.1 167.8 L373.2 167.8 L382.2 167.8 L391.3 167.8 L400.4 167.8 L409.5 167.8 L418.6 167.8 L427.7 167.8 L436.8 167.8 L445.9 167.8 L455 167.8 L464.1 167.8 L473.2 167.8 L482.3 167.8" fill="none" stroke="none" marker-start="url(#c231f2013)" marker-mid="url(#c231f2013)" marker-end="url(#c231f2013)"/>
<path d="M291.3 166 L300.4 165.7 L309.5 166 L318.6 165.7 L327.7 165 L336.8 158.5 L345.9 156.7 L355 148.8 L364.1 145.7 L373.2 149.7 L382.2 154.9 L391.3 157.9 L400.4 161 L409.5 163 L418.6 164.9 L427.7 165.8 L436.8 166.4 L445.9 166.8 L455 167 L464.1 167.2 L473.2 167.3 L482.3 167.4" fill="none" stroke="#6b1f70" stroke-width="1.3" stroke-linejoin="round"/>
<path d="M291.3 166V163.4M289 163.4H293.6M355 148.8V147.3M352.7 147.3H357.3M364.1 145.7V143.5M361.8 143.5H366.4" fill="none" stroke="#6b1f70" stroke-width="1"/>
<path d="M291.3 166 L300.4 165.7 L309.5 166 L318.6 165.7 L327.7 165 L336.8 158.5 L345.9 156.7 L355 148.8 L364.1 145.7 L373.2 149.7 L382.2 154.9 L391.3 157.9 L400.4 161 L409.5 163 L418.6 164.9 L427.7 165.8 L436.8 166.4 L445.9 166.8 L455 167 L464.1 167.2 L473.2 167.3 L482.3 167.4" fill="none" stroke="none" marker-start="url(#c6b1f7013)" marker-mid="url(#c6b1f7013)" marker-end="url(#c6b1f7013)"/>
<path d="M291.3 167.5 L300.4 166 L309.5 165.5 L318.6 166 L327.7 164 L336.8 157.5 L345.9 150.5 L355 145 L364.1 139.5 L373.2 143 L382.2 146 L391.3 149.4 L400.4 153.9 L409.5 160 L418.6 163 L427.7 164.6 L436.8 165.4 L445.9 165.9 L455 166.3 L464.1 166.6 L473.2 166.8 L482.3 167" fill="none" stroke="#2d3c8e" stroke-width="1.3" stroke-linejoin="round"/>
<path d="M345.9 150.5V149.4M343.6 149.4H348.2M355 145V143.6M352.7 143.6H357.3M364.1 139.5V137.8M361.8 137.8H366.4M373.2 143V141.5M370.9 141.5H375.5M382.2 146V144.6M379.9 144.6H384.6M391.3 149.4V148.2M389 148.2H393.6M400.4 153.9V153M398.1 153H402.7" fill="none" stroke="#2d3c8e" stroke-width="1"/>
<path d="M291.3 167.5 L300.4 166 L309.5 165.5 L318.6 166 L327.7 164 L336.8 157.5 L345.9 150.5 L355 145 L364.1 139.5 L373.2 143 L382.2 146 L391.3 149.4 L400.4 153.9 L409.5 160 L418.6 163 L427.7 164.6 L436.8 165.4 L445.9 165.9 L455 166.3 L464.1 166.6 L473.2 166.8 L482.3 167" fill="none" stroke="none" marker-start="url(#c2d3c8e13)" marker-mid="url(#c2d3c8e13)" marker-end="url(#c2d3c8e13)"/>
<path d="M291.3 167.5 L300.4 165.7 L309.5 164.4 L318.6 165.5 L327.7 163 L336.8 155.5 L345.9 148.5 L355 136.7 L364.1 130.4 L373.2 134.8 L382.2 140.3 L391.3 144.7 L400.4 150.4 L409.5 156.7 L418.6 160.5 L427.7 163 L436.8 164.6 L445.9 165.3 L455 165.6 L464.1 166 L473.2 166 L482.3 166.2" fill="none" stroke="#207a3d" stroke-width="1.3" stroke-linejoin="round"/>
<path d="M345.9 148.5V147.5M343.6 147.5H348.2M355 136.7V135.2M352.7 135.2H357.3M364.1 130.4V127.9M361.8 127.9H366.4M373.2 134.8V129.8M370.9 129.8H375.5M382.2 140.3V139.3M379.9 139.3H384.6" fill="none" stroke="#207a3d" stroke-width="1"/>
<path d="M291.3 167.5 L300.4 165.7 L309.5 164.4 L318.6 165.5 L327.7 163 L336.8 155.5 L345.9 148.5 L355 136.7 L364.1 130.4 L373.2 134.8 L382.2 140.3 L391.3 144.7 L400.4 150.4 L409.5 156.7 L418.6 160.5 L427.7 163 L436.8 164.6 L445.9 165.3 L455 165.6 L464.1 166 L473.2 166 L482.3 166.2" fill="none" stroke="none" marker-start="url(#c207a3d13)" marker-mid="url(#c207a3d13)" marker-end="url(#c207a3d13)"/>
<path d="M291.3 167.5 L300.4 165.5 L309.5 164.5 L318.6 165.5 L327.7 163 L336.8 154 L345.9 144.3 L355 131.6 L364.1 124.7 L373.2 126 L382.2 131.2 L391.3 137.1 L400.4 146 L409.5 152.3 L418.6 158 L427.7 161.1 L436.8 163.7 L445.9 164.5 L455 165 L464.1 165.3 L473.2 165.5 L482.3 165.8" fill="none" stroke="#8c9c3a" stroke-width="1.3" stroke-linejoin="round"/>
<path d="M336.8 154V153.1M334.5 153.1H339.1M345.9 144.3V142.8M343.6 142.8H348.2M355 131.6V129.4M352.7 129.4H357.3M364.1 124.7V122.1M361.8 122.1H366.4M373.2 126V123.4M370.9 123.4H375.5M382.2 131.2V129M379.9 129H384.6M391.3 137.1V135.2M389 135.2H393.6M400.4 146V144.6M398.1 144.6H402.7M409.5 152.3V151.3M407.2 151.3H411.8" fill="none" stroke="#8c9c3a" stroke-width="1"/>
<path d="M291.3 167.5 L300.4 165.5 L309.5 164.5 L318.6 165.5 L327.7 163 L336.8 154 L345.9 144.3 L355 131.6 L364.1 124.7 L373.2 126 L382.2 131.2 L391.3 137.1 L400.4 146 L409.5 152.3 L418.6 158 L427.7 161.1 L436.8 163.7 L445.9 164.5 L455 165 L464.1 165.3 L473.2 165.5 L482.3 165.8" fill="none" stroke="none" marker-start="url(#c8c9c3a13)" marker-mid="url(#c8c9c3a13)" marker-end="url(#c8c9c3a13)"/>
<path d="M291.3 167.5 L300.4 164 L309.5 163 L318.6 165.7 L327.7 161.7 L336.8 146.2 L345.9 133.5 L355 118.2 L364.1 113.3 L373.2 113.9 L382.2 118.9 L391.3 126 L400.4 134.2 L409.5 144.3 L418.6 151 L427.7 156.6 L436.8 160.3 L445.9 162.5 L455 163.5 L464.1 164.3 L473.2 164.5 L482.3 165" fill="none" stroke="#dc7a2c" stroke-width="1.3" stroke-linejoin="round"/>
<path d="M355 118.2V115.4M352.7 115.4H357.3M364.1 113.3V110.3M361.8 110.3H366.4M382.2 118.9V115.9M379.9 115.9H384.6M391.3 126V123M389 123H393.6M400.4 134.2V131.2M398.1 131.2H402.7" fill="none" stroke="#dc7a2c" stroke-width="1"/>
<path d="M291.3 167.5 L300.4 164 L309.5 163 L318.6 165.7 L327.7 161.7 L336.8 146.2 L345.9 133.5 L355 118.2 L364.1 113.3 L373.2 113.9 L382.2 118.9 L391.3 126 L400.4 134.2 L409.5 144.3 L418.6 151 L427.7 156.6 L436.8 160.3 L445.9 162.5 L455 163.5 L464.1 164.3 L473.2 164.5 L482.3 165" fill="none" stroke="none" marker-start="url(#cdc7a2c13)" marker-mid="url(#cdc7a2c13)" marker-end="url(#cdc7a2c13)"/>
<path d="M291.3 167 L300.4 165.3 L309.5 161.3 L318.6 163.8 L327.7 156.4 L336.8 137.2 L345.9 108 L355 88.7 L364.1 70 L373.2 67.6 L382.2 80.4 L391.3 96.2 L400.4 105.3 L409.5 116.9 L418.6 127.5 L427.7 138.1 L436.8 146 L445.9 150.9 L455 154.4 L464.1 156.4 L473.2 159 L482.3 159.9" fill="none" stroke="#b4272c" stroke-width="1.3" stroke-linejoin="round"/>
<path d="M309.5 161.3V158.3M307.2 158.3H311.8M327.7 156.4V154.4M325.4 154.4H330M336.8 137.2V134.7M334.5 134.7H339.1M345.9 108V105.5M343.6 105.5H348.2M355 88.7V85.7M352.7 85.7H357.3M364.1 70V67M361.8 67H366.4M373.2 67.6V57.6M370.9 57.6H375.5M382.2 80.4V75.4M379.9 75.4H384.6M391.3 96.2V93.7M389 93.7H393.6M400.4 105.3V103.3M398.1 103.3H402.7M418.6 127.5V126M416.3 126H420.9M427.7 138.1V136.6M425.4 136.6H430M436.8 146V145M434.5 145H439.1M445.9 150.9V149.9M443.6 149.9H448.2" fill="none" stroke="#b4272c" stroke-width="1"/>
<path d="M291.3 167 L300.4 165.3 L309.5 161.3 L318.6 163.8 L327.7 156.4 L336.8 137.2 L345.9 108 L355 88.7 L364.1 70 L373.2 67.6 L382.2 80.4 L391.3 96.2 L400.4 105.3 L409.5 116.9 L418.6 127.5 L427.7 138.1 L436.8 146 L445.9 150.9 L455 154.4 L464.1 156.4 L473.2 159 L482.3 159.9" fill="none" stroke="none" marker-start="url(#cb4272c13)" marker-mid="url(#cb4272c13)" marker-end="url(#cb4272c13)"/>
<g stroke="#262626" stroke-width="1.2" fill="none">
<path d="M53.5 232.3V353.5H235"/>
<path d="M44.5 353.5H53.5"/>
<path d="M44.5 313.5H53.5"/>
<path d="M44.5 272.5H53.5"/>
<path d="M44.5 232.5H53.5"/>
<path d="M53.5 353.5V359.7"/>
<path d="M89.5 353.5V359.7"/>
<path d="M126.5 353.5V359.7"/>
<path d="M162.5 353.5V359.7"/>
<path d="M198.5 353.5V359.7"/>
<path d="M235.5 353.5V359.7"/>
</g>
<g fill="#1c1a1b" font-size="11.3">
<text x="41.8" y="358.3" text-anchor="end">0</text>
<text x="41.8" y="317.8" text-anchor="end">500</text>
<text x="41.8" y="277.4" text-anchor="end">1000</text>
<text x="41.8" y="236.9" text-anchor="end">1500</text>
<text x="54" y="374" text-anchor="middle">0</text>
<text x="90.3" y="374" text-anchor="middle">5</text>
<text x="126.6" y="374" text-anchor="middle">10</text>
<text x="162.9" y="374" text-anchor="middle">15</text>
<text x="199.2" y="374" text-anchor="middle">20</text>
<text x="235.5" y="374" text-anchor="middle">25</text>
</g>
<text transform="translate(10.6 278.3) rotate(-90)" text-anchor="middle" font-size="11.4" letter-spacing="0.15" fill="#1c1a1b">CPS/OD</text>
<text x="99.3" y="234" font-size="11.3" letter-spacing="0.46" fill="#1c1a1b"><tspan font-style="italic">vraX</tspan><tspan font-size="6.4" dy="3.2" letter-spacing="0.1">pro</tspan><tspan font-style="italic" dy="-3.2">-lux</tspan> (Tarocin A)</text>
<text x="128.2" y="391" font-size="11.3" letter-spacing="0.05" fill="#1c1a1b">Time (h)</text>
<path d="M53.5 343.6 L55.3 328.4 L57.1 332.8 L58.9 338.5 L60.8 344.2 L62.6 340.4 L64.4 345.3 L66.2 345.8 L68 348 L69.8 347.4 L71.7 349.4 L73.5 348.7 L75.3 347.6 L77.1 348 L78.9 349.4 L80.7 349.4 L82.5 349.4 L84.4 349.5 L86.2 349.5 L88 349.6 L89.8 349.6 L91.6 349.7 L93.4 349.7 L95.2 349.6 L97.1 350.7 L98.9 349.8 L100.7 350.6 L102.5 350.3 L104.3 349.8 L106.1 350.5 L107.9 349.7 L109.8 350.4 L111.6 349.8 L113.4 349.8 L115.2 350.3 L117 351 L118.8 349.8 L120.7 350 L122.5 350.7 L124.3 351.2 L126.1 350.6 L127.9 350.3 L129.7 351.2 L131.5 349.7 L133.4 351 L135.2 350.1 L137 349.8 L138.8 349.8 L140.6 350.1 L142.4 351 L144.2 349.9 L146.1 350.6 L147.9 350.6 L149.7 350.2 L151.5 350.5 L153.3 349.7 L155.1 349.7 L157 349.9 L158.8 350.7 L160.6 350.3 L162.4 350.1 L164.2 350.5 L166 350.3 L167.8 350.1 L169.7 350.9 L171.5 350.7 L173.3 349.9 L175.1 350.5 L176.9 350.4 L178.7 351 L180.6 350.7 L182.4 350 L184.2 351.2 L186 349.7 L187.8 350.2 L189.6 350.8 L191.4 349.8 L193.3 350.3 L195.1 349.6 L196.9 350.6 L198.7 350.8 L200.5 350.5 L202.3 351 L204.1 350 L206 350.6 L207.8 350.5 L209.6 350.5 L211.4 350.2 L213.2 350.9 L215 351.1 L216.8 350.3 L218.7 350.6" fill="none" stroke="#231f20" stroke-width="1.2" stroke-linejoin="round"/>
<path d="M53.5 343.6V342.8M51.7 342.8H55.3M55.3 328.4V326.4M53.5 326.4H57.1M57.1 332.8V331.1M55.3 331.1H58.9M58.9 338.5V337.3M57.1 337.3H60.7M62.6 340.4V338.4M60.8 338.4H64.4M73.5 348.7V346.7M71.7 346.7H75.3" fill="none" stroke="#231f20" stroke-width="1"/>
<path d="M53.5 343.6 L55.3 328.4 L57.1 332.8 L58.9 338.5 L60.8 344.2 L62.6 340.4 L64.4 345.3 L66.2 345.8 L68 348 L69.8 347.4 L71.7 349.4 L73.5 348.7 L75.3 347.6 L77.1 348 L78.9 349.4 L80.7 349.4 L82.5 349.4 L84.4 349.5 L86.2 349.5 L88 349.6 L89.8 349.6 L91.6 349.7 L93.4 349.7 L95.2 349.6 L97.1 350.7 L98.9 349.8 L100.7 350.6 L102.5 350.3 L104.3 349.8 L106.1 350.5 L107.9 349.7 L109.8 350.4 L111.6 349.8 L113.4 349.8 L115.2 350.3 L117 351 L118.8 349.8 L120.7 350 L122.5 350.7 L124.3 351.2 L126.1 350.6 L127.9 350.3 L129.7 351.2 L131.5 349.7 L133.4 351 L135.2 350.1 L137 349.8 L138.8 349.8 L140.6 350.1 L142.4 351 L144.2 349.9 L146.1 350.6 L147.9 350.6 L149.7 350.2 L151.5 350.5 L153.3 349.7 L155.1 349.7 L157 349.9 L158.8 350.7 L160.6 350.3 L162.4 350.1 L164.2 350.5 L166 350.3 L167.8 350.1 L169.7 350.9 L171.5 350.7 L173.3 349.9 L175.1 350.5 L176.9 350.4 L178.7 351 L180.6 350.7 L182.4 350 L184.2 351.2 L186 349.7 L187.8 350.2 L189.6 350.8 L191.4 349.8 L193.3 350.3 L195.1 349.6 L196.9 350.6 L198.7 350.8 L200.5 350.5 L202.3 351 L204.1 350 L206 350.6 L207.8 350.5 L209.6 350.5 L211.4 350.2 L213.2 350.9 L215 351.1 L216.8 350.3 L218.7 350.6" fill="none" stroke="none" marker-start="url(#c231f2012)" marker-mid="url(#c231f2012)" marker-end="url(#c231f2012)"/>
<path d="M53.5 329 L55.3 306.7 L57.1 299.7 L58.9 314 L60.8 327.2 L62.6 317.7 L64.4 324 L66.2 337.3 L68 339 L69.8 338.2 L71.7 340.4 L73.5 343.9 L75.3 345.3 L77.1 346.7 L78.9 348.7 L80.7 349 L82.5 349.9 L84.4 350 L86.2 350.2 L88 350.3 L89.8 350.4 L91.6 350.4 L93.4 349.5 L95.2 350.5 L97.1 350.3 L98.9 350.8 L100.7 350.5 L102.5 349.6 L104.3 349.8 L106.1 350.2 L107.9 349.1 L109.8 349.9 L111.6 349.4 L113.4 349.3 L115.2 349.2 L117 350.4 L118.8 349.3 L120.7 349.5 L122.5 349.7 L124.3 350.5 L126.1 349.1 L127.9 349.8 L129.7 349.9 L131.5 350.5 L133.4 350.4 L135.2 350.5 L137 349.4 L138.8 349.7 L140.6 349.6 L142.4 350.5 L144.2 350.6 L146.1 349.2 L147.9 349.2 L149.7 349.3 L151.5 349.3 L153.3 349.7 L155.1 349.9 L157 349.3 L158.8 348.8 L160.6 349.5 L162.4 349.4 L164.2 349.8 L166 350.4 L167.8 350 L169.7 349.6 L171.5 349.8 L173.3 349.9 L175.1 348.8 L176.9 350.3 L178.7 350.1 L180.6 350.2 L182.4 350.1 L184.2 349.3 L186 349.3 L187.8 348.8 L189.6 349.7 L191.4 348.7 L193.3 348.7 L195.1 348.9 L196.9 348.8 L198.7 349.1 L200.5 348.6 L202.3 348.5 L204.1 348.8 L206 348.7 L207.8 349.1 L209.6 348.5 L211.4 350 L213.2 349.5 L215 348.7 L216.8 348.9 L218.7 349" fill="none" stroke="#6b1f70" stroke-width="1.2" stroke-linejoin="round"/>
<path d="M53.5 329V327M51.7 327H55.3M55.3 306.7V302.9M53.5 302.9H57.1M57.1 299.7V295.4M55.3 295.4H58.9M58.9 314V310.8M57.1 310.8H60.7M60.8 327.2V325.1M59 325.1H62.6M62.6 317.7V312.7M60.8 312.7H64.4M64.4 324V320M62.6 320H66.2M66.2 337.3V334.3M64.4 334.3H68M68 339V337.8M66.2 337.8H69.8M69.8 338.2V332.2M68 332.2H71.6M71.7 340.4V336.4M69.9 336.4H73.5M75.3 345.3V343.3M73.5 343.3H77.1" fill="none" stroke="#6b1f70" stroke-width="1"/>
<path d="M53.5 329 L55.3 306.7 L57.1 299.7 L58.9 314 L60.8 327.2 L62.6 317.7 L64.4 324 L66.2 337.3 L68 339 L69.8 338.2 L71.7 340.4 L73.5 343.9 L75.3 345.3 L77.1 346.7 L78.9 348.7 L80.7 349 L82.5 349.9 L84.4 350 L86.2 350.2 L88 350.3 L89.8 350.4 L91.6 350.4 L93.4 349.5 L95.2 350.5 L97.1 350.3 L98.9 350.8 L100.7 350.5 L102.5 349.6 L104.3 349.8 L106.1 350.2 L107.9 349.1 L109.8 349.9 L111.6 349.4 L113.4 349.3 L115.2 349.2 L117 350.4 L118.8 349.3 L120.7 349.5 L122.5 349.7 L124.3 350.5 L126.1 349.1 L127.9 349.8 L129.7 349.9 L131.5 350.5 L133.4 350.4 L135.2 350.5 L137 349.4 L138.8 349.7 L140.6 349.6 L142.4 350.5 L144.2 350.6 L146.1 349.2 L147.9 349.2 L149.7 349.3 L151.5 349.3 L153.3 349.7 L155.1 349.9 L157 349.3 L158.8 348.8 L160.6 349.5 L162.4 349.4 L164.2 349.8 L166 350.4 L167.8 350 L169.7 349.6 L171.5 349.8 L173.3 349.9 L175.1 348.8 L176.9 350.3 L178.7 350.1 L180.6 350.2 L182.4 350.1 L184.2 349.3 L186 349.3 L187.8 348.8 L189.6 349.7 L191.4 348.7 L193.3 348.7 L195.1 348.9 L196.9 348.8 L198.7 349.1 L200.5 348.6 L202.3 348.5 L204.1 348.8 L206 348.7 L207.8 349.1 L209.6 348.5 L211.4 350 L213.2 349.5 L215 348.7 L216.8 348.9 L218.7 349" fill="none" stroke="none" marker-start="url(#c6b1f7012)" marker-mid="url(#c6b1f7012)" marker-end="url(#c6b1f7012)"/>
<path d="M53.5 333.5 L55.3 298.5 L57.1 283.2 L58.9 314.3 L60.8 313.7 L62.6 304.8 L64.4 298.5 L66.2 306 L68 317 L69.8 320.2 L71.7 332.7 L73.5 337.6 L75.3 342.5 L77.1 343.5 L78.9 346.7 L80.7 348.7 L82.5 349.4 L84.4 350 L86.2 350.2 L88 350.4 L89.8 350.6 L91.6 350.8 L93.4 350.1 L95.2 349.3 L97.1 350.1 L98.9 350.4 L100.7 349.4 L102.5 349.4 L104.3 348.6 L106.1 348.6 L107.9 349 L109.8 348.8 L111.6 349.8 L113.4 348.6 L115.2 348.3 L117 350 L118.8 349.2 L120.7 348.4 L122.5 349.1 L124.3 348.1 L126.1 349 L127.9 349.8 L129.7 349.6 L131.5 349.2 L133.4 348.4 L135.2 348.5 L137 348.1 L138.8 349.2 L140.6 348.8 L142.4 349.2 L144.2 348.3 L146.1 348.1 L147.9 349.2 L149.7 349.5 L151.5 349.2 L153.3 349.1 L155.1 349.1 L157 348.9 L158.8 347.9 L160.6 348.4 L162.4 348.1 L164.2 347.4 L166 347.4 L167.8 347.9 L169.7 347.8 L171.5 348.6 L173.3 349.1 L175.1 348.1 L176.9 349 L178.7 349.1 L180.6 349 L182.4 347.8 L184.2 347.5 L186 347.5 L187.8 347.4 L189.6 347.4 L191.4 348.2 L193.3 348.7 L195.1 348.6 L196.9 347.8 L198.7 348.1 L200.5 348.4 L202.3 346.9 L204.1 348.1 L206 348.5 L207.8 348.3 L209.6 348.2 L211.4 347.6 L213.2 346.9 L215 348.2 L216.8 347.2 L218.7 348.1" fill="none" stroke="#2d3c8e" stroke-width="1.2" stroke-linejoin="round"/>
<path d="M53.5 333.5V331.9M51.7 331.9H55.3M55.3 298.5V290.5M53.5 290.5H57.1M57.1 283.2V277.2M55.3 277.2H58.9M58.9 314.3V311.1M57.1 311.1H60.7M60.8 313.7V310.5M59 310.5H62.6M62.6 304.8V300.9M60.8 300.9H64.4M64.4 298.5V293.5M62.6 293.5H66.2M66.2 306V302.2M64.4 302.2H68M68 317V310M66.2 310H69.8M69.8 320.2V315.2M68 315.2H71.6M71.7 332.7V329.7M69.9 329.7H73.5M73.5 337.6V334.6M71.7 334.6H75.3M75.3 342.5V341.6M73.5 341.6H77.1M77.1 343.5V342.7M75.3 342.7H78.9M164.2 347.4V346.6M162.4 346.6H166M166 347.4V346.6M164.2 346.6H167.8M184.2 347.5V346.7M182.4 346.7H186M186 347.5V346.7M184.2 346.7H187.8M187.8 347.4V346.6M186 346.6H189.6M189.6 347.4V346.5M187.8 346.5H191.4M202.3 346.9V346M200.5 346H204.1M213.2 346.9V346.1M211.4 346.1H215M216.8 347.2V346.4M215 346.4H218.7" fill="none" stroke="#2d3c8e" stroke-width="1"/>
<path d="M53.5 333.5 L55.3 298.5 L57.1 283.2 L58.9 314.3 L60.8 313.7 L62.6 304.8 L64.4 298.5 L66.2 306 L68 317 L69.8 320.2 L71.7 332.7 L73.5 337.6 L75.3 342.5 L77.1 343.5 L78.9 346.7 L80.7 348.7 L82.5 349.4 L84.4 350 L86.2 350.2 L88 350.4 L89.8 350.6 L91.6 350.8 L93.4 350.1 L95.2 349.3 L97.1 350.1 L98.9 350.4 L100.7 349.4 L102.5 349.4 L104.3 348.6 L106.1 348.6 L107.9 349 L109.8 348.8 L111.6 349.8 L113.4 348.6 L115.2 348.3 L117 350 L118.8 349.2 L120.7 348.4 L122.5 349.1 L124.3 348.1 L126.1 349 L127.9 349.8 L129.7 349.6 L131.5 349.2 L133.4 348.4 L135.2 348.5 L137 348.1 L138.8 349.2 L140.6 348.8 L142.4 349.2 L144.2 348.3 L146.1 348.1 L147.9 349.2 L149.7 349.5 L151.5 349.2 L153.3 349.1 L155.1 349.1 L157 348.9 L158.8 347.9 L160.6 348.4 L162.4 348.1 L164.2 347.4 L166 347.4 L167.8 347.9 L169.7 347.8 L171.5 348.6 L173.3 349.1 L175.1 348.1 L176.9 349 L178.7 349.1 L180.6 349 L182.4 347.8 L184.2 347.5 L186 347.5 L187.8 347.4 L189.6 347.4 L191.4 348.2 L193.3 348.7 L195.1 348.6 L196.9 347.8 L198.7 348.1 L200.5 348.4 L202.3 346.9 L204.1 348.1 L206 348.5 L207.8 348.3 L209.6 348.2 L211.4 347.6 L213.2 346.9 L215 348.2 L216.8 347.2 L218.7 348.1" fill="none" stroke="none" marker-start="url(#c2d3c8e12)" marker-mid="url(#c2d3c8e12)" marker-end="url(#c2d3c8e12)"/>
<path d="M53.5 331.6 L55.3 312 L57.1 282 L58.9 322.7 L60.8 313.7 L62.6 294 L64.4 296 L66.2 287.7 L68 296 L69.8 299.7 L71.7 310 L73.5 319.5 L75.3 329.2 L77.1 337.6 L78.9 344.6 L80.7 346 L82.5 348 L84.4 348 L86.2 348.5 L88 348 L89.8 347.5 L91.6 346.5 L93.4 348 L95.2 347.3 L97.1 347.8 L98.9 348.9 L100.7 348.4 L102.5 347.3 L104.3 347.3 L106.1 347.3 L107.9 348.8 L109.8 348.6 L111.6 347.3 L113.4 348.7 L115.2 349 L117 348.3 L118.8 347.7 L120.7 348.1 L122.5 347.3 L124.3 347 L126.1 348.9 L127.9 348.1 L129.7 347.7 L131.5 348.4 L133.4 347.2 L135.2 348 L137 347.7 L138.8 346.3 L140.6 346.2 L142.4 346.3 L144.2 346.1 L146.1 346.8 L147.9 346 L149.7 346.3 L151.5 345.6 L153.3 347.3 L155.1 346 L157 346.2 L158.8 346.4 L160.6 347.1 L162.4 346 L164.2 347 L166 346.1 L167.8 346.1 L169.7 346 L171.5 344.8 L173.3 345.7 L175.1 345.1 L176.9 344.6 L178.7 346.4 L180.6 344.9 L182.4 345.5 L184.2 346.1 L186 345.6 L187.8 345 L189.6 345.4 L191.4 345.4 L193.3 345.9 L195.1 344.3 L196.9 345.3 L198.7 344.5 L200.5 344.5 L202.3 345.7 L204.1 345 L206 345 L207.8 345.5 L209.6 345.8 L211.4 344.6 L213.2 345 L215 344.6 L216.8 344.6 L218.7 345" fill="none" stroke="#207a3d" stroke-width="1.2" stroke-linejoin="round"/>
<path d="M53.5 331.6V329.8M51.7 329.8H55.3M55.3 312V308.7M53.5 308.7H57.1M57.1 282V276.3M55.3 276.3H58.9M58.9 322.7V320.2M57.1 320.2H60.7M60.8 313.7V310.5M59 310.5H62.6M62.6 294V287M60.8 287H64.4M64.4 296V291.4M62.6 291.4H66.2M66.2 287.7V282.4M64.4 282.4H68M68 296V291.4M66.2 291.4H69.8M69.8 299.7V295.7M68 295.7H71.6M71.7 310V306.5M69.9 306.5H73.5M73.5 319.5V316.8M71.7 316.8H75.3M75.3 329.2V327.2M73.5 327.2H77.1M77.1 337.6V331.6M75.3 331.6H78.9M95.2 347.3V346.5M93.4 346.5H97M102.5 347.3V346.5M100.7 346.5H104.3M104.3 347.3V346.4M102.5 346.4H106.1M106.1 347.3V346.5M104.3 346.5H107.9M111.6 347.3V346.5M109.8 346.5H113.4M122.5 347.3V346.4M120.7 346.4H124.3M124.3 347V346.2M122.5 346.2H126.1M133.4 347.2V346.4M131.6 346.4H135.2M138.8 346.3V345.3M137 345.3H140.6M140.6 346.2V345.3M138.8 345.3H142.4M142.4 346.3V345.3M140.6 345.3H144.2M144.2 346.1V345.1M142.4 345.1H146.1M146.1 346.8V345.9M144.3 345.9H147.9M147.9 346V345M146.1 345H149.7M149.7 346.3V345.4M147.9 345.4H151.5M151.5 345.6V344.6M149.7 344.6H153.3M153.3 347.3V346.5M151.5 346.5H155.1M155.1 346V345M153.3 345H156.9M157 346.2V345.2M155.2 345.2H158.8M158.8 346.4V345.5M157 345.5H160.6M160.6 347.1V346.3M158.8 346.3H162.4M162.4 346V345M160.6 345H164.2M164.2 347V346.2M162.4 346.2H166M166 346.1V345.1M164.2 345.1H167.8M167.8 346.1V345.1M166 345.1H169.6M169.7 346V345M167.9 345H171.5M171.5 344.8V343.6M169.7 343.6H173.3M173.3 345.7V344.7M171.5 344.7H175.1M175.1 345.1V343.9M173.3 343.9H176.9M176.9 344.6V343.4M175.1 343.4H178.7M178.7 346.4V345.4M176.9 345.4H180.5M180.6 344.9V343.7M178.8 343.7H182.4M182.4 345.5V344.5M180.6 344.5H184.2M184.2 346.1V345.1M182.4 345.1H186M186 345.6V344.6M184.2 344.6H187.8M187.8 345V343.9M186 343.9H189.6M189.6 345.4V344.3M187.8 344.3H191.4M191.4 345.4V344.4M189.6 344.4H193.2M193.3 345.9V344.9M191.5 344.9H195.1M195.1 344.3V343M193.3 343H196.9M196.9 345.3V344.2M195.1 344.2H198.7M198.7 344.5V343.3M196.9 343.3H200.5M200.5 344.5V343.3M198.7 343.3H202.3M202.3 345.7V344.6M200.5 344.6H204.1M204.1 345V343.8M202.3 343.8H205.9M206 345V343.9M204.2 343.9H207.8M207.8 345.5V344.4M206 344.4H209.6M209.6 345.8V344.8M207.8 344.8H211.4M211.4 344.6V343.4M209.6 343.4H213.2M213.2 345V343.8M211.4 343.8H215M215 344.6V343.5M213.2 343.5H216.8M216.8 344.6V343.4M215 343.4H218.7M218.7 345V343.9M216.9 343.9H220.5" fill="none" stroke="#207a3d" stroke-width="1"/>
<path d="M53.5 331.6 L55.3 312 L57.1 282 L58.9 322.7 L60.8 313.7 L62.6 294 L64.4 296 L66.2 287.7 L68 296 L69.8 299.7 L71.7 310 L73.5 319.5 L75.3 329.2 L77.1 337.6 L78.9 344.6 L80.7 346 L82.5 348 L84.4 348 L86.2 348.5 L88 348 L89.8 347.5 L91.6 346.5 L93.4 348 L95.2 347.3 L97.1 347.8 L98.9 348.9 L100.7 348.4 L102.5 347.3 L104.3 347.3 L106.1 347.3 L107.9 348.8 L109.8 348.6 L111.6 347.3 L113.4 348.7 L115.2 349 L117 348.3 L118.8 347.7 L120.7 348.1 L122.5 347.3 L124.3 347 L126.1 348.9 L127.9 348.1 L129.7 347.7 L131.5 348.4 L133.4 347.2 L135.2 348 L137 347.7 L138.8 346.3 L140.6 346.2 L142.4 346.3 L144.2 346.1 L146.1 346.8 L147.9 346 L149.7 346.3 L151.5 345.6 L153.3 347.3 L155.1 346 L157 346.2 L158.8 346.4 L160.6 347.1 L162.4 346 L164.2 347 L166 346.1 L167.8 346.1 L169.7 346 L171.5 344.8 L173.3 345.7 L175.1 345.1 L176.9 344.6 L178.7 346.4 L180.6 344.9 L182.4 345.5 L184.2 346.1 L186 345.6 L187.8 345 L189.6 345.4 L191.4 345.4 L193.3 345.9 L195.1 344.3 L196.9 345.3 L198.7 344.5 L200.5 344.5 L202.3 345.7 L204.1 345 L206 345 L207.8 345.5 L209.6 345.8 L211.4 344.6 L213.2 345 L215 344.6 L216.8 344.6 L218.7 345" fill="none" stroke="none" marker-start="url(#c207a3d12)" marker-mid="url(#c207a3d12)" marker-end="url(#c207a3d12)"/>
<path d="M53.5 335.4 L55.3 316 L57.1 282.7 L58.9 275.7 L60.8 313.7 L62.6 294.7 L64.4 289.6 L66.2 285.2 L68 286.5 L69.8 310.5 L71.7 309.2 L73.5 319.5 L75.3 329.2 L77.1 337.6 L78.9 342 L80.7 345.3 L82.5 348 L84.4 347.4 L86.2 348 L88 347 L89.8 346 L91.6 345 L93.4 345.4 L95.2 346.1 L97.1 346.5 L98.9 347.5 L100.7 346.9 L102.5 347.3 L104.3 347.5 L106.1 346 L107.9 346.6 L109.8 347.5 L111.6 347.3 L113.4 345.7 L115.2 345.7 L117 346.4 L118.8 345.6 L120.7 345.9 L122.5 345.6 L124.3 346.9 L126.1 347.1 L127.9 347.1 L129.7 345.2 L131.5 346.2 L133.4 345.8 L135.2 344.3 L137 345.9 L138.8 345.8 L140.6 343.8 L142.4 345.5 L144.2 344 L146.1 344.1 L147.9 345.2 L149.7 344.7 L151.5 342.8 L153.3 343.4 L155.1 343.5 L157 342.9 L158.8 342.4 L160.6 342.6 L162.4 343.6 L164.2 341.6 L166 342.9 L167.8 342.5 L169.7 341.2 L171.5 341.9 L173.3 342.7 L175.1 342.3 L176.9 340.9 L178.7 343.4 L180.6 342.8 L182.4 343.2 L184.2 340.7 L186 341 L187.8 340.3 L189.6 342.3 L191.4 340.8 L193.3 340.3 L195.1 341 L196.9 342.4 L198.7 342 L200.5 340.3 L202.3 340.1 L204.1 342.5 L206 341.7 L207.8 342.2 L209.6 340.5 L211.4 340.6 L213.2 342.5 L215 341.9 L216.8 341.1 L218.7 343.6" fill="none" stroke="#8c9c3a" stroke-width="1.2" stroke-linejoin="round"/>
<path d="M53.5 335.4V333.9M51.7 333.9H55.3M55.3 316V313M53.5 313H57.1M57.1 282.7V277M55.3 277H58.9M58.9 275.7V241.3M57.1 241.3H60.7M60.8 313.7V310.5M59 310.5H62.6M62.6 294.7V290M60.8 290H64.4M64.4 289.6V284.5M62.6 284.5H66.2M66.2 285.2V277.2M64.4 277.2H68M68 286.5V269M66.2 269H69.8M69.8 310.5V304.5M68 304.5H71.6M71.7 309.2V305.6M69.9 305.6H73.5M73.5 319.5V316.8M71.7 316.8H75.3M75.3 329.2V327.2M73.5 327.2H77.1M77.1 337.6V336.3M75.3 336.3H78.9M78.9 342V341.1M77.1 341.1H80.7M93.4 345.4V344.3M91.6 344.3H95.2M95.2 346.1V345.1M93.4 345.1H97M97.1 346.5V345.5M95.3 345.5H98.9M98.9 347.5V346.7M97.1 346.7H100.7M100.7 346.9V346.1M98.9 346.1H102.5M102.5 347.3V346.5M100.7 346.5H104.3M104.3 347.5V346.7M102.5 346.7H106.1M106.1 346V345M104.3 345H107.9M107.9 346.6V345.7M106.1 345.7H109.7M109.8 347.5V346.7M108 346.7H111.6M111.6 347.3V346.4M109.8 346.4H113.4M113.4 345.7V344.7M111.6 344.7H115.2M115.2 345.7V344.6M113.4 344.6H117M117 346.4V345.4M115.2 345.4H118.8M118.8 345.6V344.5M117 344.5H120.6M120.7 345.9V344.9M118.9 344.9H122.5M122.5 345.6V344.5M120.7 344.5H124.3M124.3 346.9V346M122.5 346H126.1M126.1 347.1V346.3M124.3 346.3H127.9M127.9 347.1V346.3M126.1 346.3H129.7M129.7 345.2V344.1M127.9 344.1H131.5M131.5 346.2V345.2M129.7 345.2H133.3M133.4 345.8V344.8M131.6 344.8H135.2M135.2 344.3V343.1M133.4 343.1H137M137 345.9V344.8M135.2 344.8H138.8M138.8 345.8V344.8M137 344.8H140.6M140.6 343.8V342.5M138.8 342.5H142.4M142.4 345.5V344.4M140.6 344.4H144.2M144.2 344V342.7M142.4 342.7H146.1M146.1 344.1V342.8M144.3 342.8H147.9M147.9 345.2V344.1M146.1 344.1H149.7M149.7 344.7V343.5M147.9 343.5H151.5M151.5 342.8V341.4M149.7 341.4H153.3M153.3 343.4V342.1M151.5 342.1H155.1M155.1 343.5V342.2M153.3 342.2H156.9M157 342.9V341.5M155.2 341.5H158.8M158.8 342.4V341M157 341H160.6M160.6 342.6V341.2M158.8 341.2H162.4M162.4 343.6V342.3M160.6 342.3H164.2M164.2 341.6V340M162.4 340H166M166 342.9V341.5M164.2 341.5H167.8M167.8 342.5V341M166 341H169.6M169.7 341.2V339.5M167.9 339.5H171.5M171.5 341.9V340.4M169.7 340.4H173.3M173.3 342.7V341.2M171.5 341.2H175.1M175.1 342.3V340.8M173.3 340.8H176.9M176.9 340.9V339.3M175.1 339.3H178.7M178.7 343.4V342.1M176.9 342.1H180.5M180.6 342.8V341.4M178.8 341.4H182.4M182.4 343.2V341.9M180.6 341.9H184.2M184.2 340.7V339M182.4 339H186M186 341V339.4M184.2 339.4H187.8M187.8 340.3V338.5M186 338.5H189.6M189.6 342.3V340.9M187.8 340.9H191.4M191.4 340.8V339.1M189.6 339.1H193.2M193.3 340.3V338.5M191.5 338.5H195.1M195.1 341V339.4M193.3 339.4H196.9M196.9 342.4V340.9M195.1 340.9H198.7M198.7 342V340.5M196.9 340.5H200.5M200.5 340.3V338.6M198.7 338.6H202.3M202.3 340.1V338.4M200.5 338.4H204.1M204.1 342.5V341.1M202.3 341.1H205.9M206 341.7V340.1M204.2 340.1H207.8M207.8 342.2V340.7M206 340.7H209.6M209.6 340.5V338.8M207.8 338.8H211.4M211.4 340.6V338.9M209.6 338.9H213.2M213.2 342.5V341.1M211.4 341.1H215M215 341.9V340.4M213.2 340.4H216.8M216.8 341.1V339.4M215 339.4H218.7M218.7 343.6V342.3M216.9 342.3H220.5" fill="none" stroke="#8c9c3a" stroke-width="1"/>
<path d="M53.5 335.4 L55.3 316 L57.1 282.7 L58.9 275.7 L60.8 313.7 L62.6 294.7 L64.4 289.6 L66.2 285.2 L68 286.5 L69.8 310.5 L71.7 309.2 L73.5 319.5 L75.3 329.2 L77.1 337.6 L78.9 342 L80.7 345.3 L82.5 348 L84.4 347.4 L86.2 348 L88 347 L89.8 346 L91.6 345 L93.4 345.4 L95.2 346.1 L97.1 346.5 L98.9 347.5 L100.7 346.9 L102.5 347.3 L104.3 347.5 L106.1 346 L107.9 346.6 L109.8 347.5 L111.6 347.3 L113.4 345.7 L115.2 345.7 L117 346.4 L118.8 345.6 L120.7 345.9 L122.5 345.6 L124.3 346.9 L126.1 347.1 L127.9 347.1 L129.7 345.2 L131.5 346.2 L133.4 345.8 L135.2 344.3 L137 345.9 L138.8 345.8 L140.6 343.8 L142.4 345.5 L144.2 344 L146.1 344.1 L147.9 345.2 L149.7 344.7 L151.5 342.8 L153.3 343.4 L155.1 343.5 L157 342.9 L158.8 342.4 L160.6 342.6 L162.4 343.6 L164.2 341.6 L166 342.9 L167.8 342.5 L169.7 341.2 L171.5 341.9 L173.3 342.7 L175.1 342.3 L176.9 340.9 L178.7 343.4 L180.6 342.8 L182.4 343.2 L184.2 340.7 L186 341 L187.8 340.3 L189.6 342.3 L191.4 340.8 L193.3 340.3 L195.1 341 L196.9 342.4 L198.7 342 L200.5 340.3 L202.3 340.1 L204.1 342.5 L206 341.7 L207.8 342.2 L209.6 340.5 L211.4 340.6 L213.2 342.5 L215 341.9 L216.8 341.1 L218.7 343.6" fill="none" stroke="none" marker-start="url(#c8c9c3a12)" marker-mid="url(#c8c9c3a12)" marker-end="url(#c8c9c3a12)"/>
<path d="M53.5 339 L55.3 316 L57.1 277.6 L58.9 311.8 L60.8 308 L62.6 295 L64.4 301.6 L66.2 275.7 L68 290 L69.8 297.8 L71.7 313 L73.5 319.5 L75.3 329.2 L77.1 337.6 L78.9 340.4 L80.7 343.2 L82.5 348 L84.4 347.4 L86.2 348 L88 346.7 L89.8 345.3 L91.6 344.6 L93.4 344.1 L95.2 343.8 L97.1 341.8 L98.9 343.8 L100.7 341.5 L102.5 343.6 L104.3 342.4 L106.1 342.4 L107.9 343.5 L109.8 345 L111.6 343.8 L113.4 344.1 L115.2 345.6 L117 344.8 L118.8 344.4 L120.7 344.4 L122.5 344.1 L124.3 344.4 L126.1 344.5 L127.9 344 L129.7 344.6 L131.5 342.9 L133.4 342.9 L135.2 341.5 L137 341.4 L138.8 339.9 L140.6 340.1 L142.4 339.1 L144.2 341 L146.1 340.1 L147.9 338.6 L149.7 339.2 L151.5 340.4 L153.3 337.4 L155.1 339.4 L157 337.8 L158.8 337.7 L160.6 338.6 L162.4 337 L164.2 337.4 L166 337.9 L167.8 338.9 L169.7 336.6 L171.5 338.2 L173.3 337.7 L175.1 337.4 L176.9 336.5 L178.7 336.1 L180.6 334.9 L182.4 335 L184.2 334.7 L186 337 L187.8 335.1 L189.6 334.6 L191.4 334.1 L193.3 336.8 L195.1 336.8 L196.9 335.9 L198.7 334.3 L200.5 334.1 L202.3 334.5 L204.1 335.3 L206 334.4 L207.8 335.7 L209.6 335.2 L211.4 338 L213.2 338.2 L215 336.9 L216.8 336.1 L218.7 338.8" fill="none" stroke="#dc7a2c" stroke-width="1.2" stroke-linejoin="round"/>
<path d="M53.5 339V337.8M51.7 337.8H55.3M55.3 316V313M53.5 313H57.1M57.1 277.6V271.6M55.3 271.6H58.9M58.9 311.8V308.4M57.1 308.4H60.7M60.8 308V304.3M59 304.3H62.6M62.6 295V290.3M60.8 290.3H64.4M64.4 301.6V297.4M62.6 297.4H66.2M66.2 275.7V261.7M64.4 261.7H68M68 290V284.9M66.2 284.9H69.8M69.8 297.8V292.8M68 292.8H71.6M71.7 313V309.7M69.9 309.7H73.5M73.5 319.5V316.8M71.7 316.8H75.3M75.3 329.2V327.2M73.5 327.2H77.1M77.1 337.6V336.3M75.3 336.3H78.9M78.9 340.4V339.3M77.1 339.3H80.7M80.7 343.2V342.4M78.9 342.4H82.5M93.4 344.1V342.8M91.6 342.8H95.2M95.2 343.8V342.5M93.4 342.5H97M97.1 341.8V340.2M95.3 340.2H98.9M98.9 343.8V342.5M97.1 342.5H100.7M100.7 341.5V339.9M98.9 339.9H102.5M102.5 343.6V342.3M100.7 342.3H104.3M104.3 342.4V340.9M102.5 340.9H106.1M106.1 342.4V340.9M104.3 340.9H107.9M107.9 343.5V342.2M106.1 342.2H109.7M109.8 345V343.9M108 343.9H111.6M111.6 343.8V342.6M109.8 342.6H113.4M113.4 344.1V342.8M111.6 342.8H115.2M115.2 345.6V344.5M113.4 344.5H117M117 344.8V343.6M115.2 343.6H118.8M118.8 344.4V343.2M117 343.2H120.6M120.7 344.4V343.2M118.9 343.2H122.5M122.5 344.1V342.8M120.7 342.8H124.3M124.3 344.4V343.2M122.5 343.2H126.1M126.1 344.5V343.4M124.3 343.4H127.9M127.9 344V342.7M126.1 342.7H129.7M129.7 344.6V343.4M127.9 343.4H131.5M131.5 342.9V341.5M129.7 341.5H133.3M133.4 342.9V341.5M131.6 341.5H135.2M135.2 341.5V339.9M133.4 339.9H137M137 341.4V339.8M135.2 339.8H138.8M138.8 339.9V338.1M137 338.1H140.6M140.6 340.1V338.4M138.8 338.4H142.4M142.4 339.1V337.2M140.6 337.2H144.2M144.2 341V339.3M142.4 339.3H146.1M146.1 340.1V338.3M144.3 338.3H147.9M147.9 338.6V336.7M146.1 336.7H149.7M149.7 339.2V337.4M147.9 337.4H151.5M151.5 340.4V338.7M149.7 338.7H153.3M153.3 337.4V335.3M151.5 335.3H155.1M155.1 339.4V337.6M153.3 337.6H156.9M157 337.8V335.8M155.2 335.8H158.8M158.8 337.7V335.7M157 335.7H160.6M160.6 338.6V336.7M158.8 336.7H162.4M162.4 337V334.9M160.6 334.9H164.2M164.2 337.4V335.2M162.4 335.2H166M166 337.9V335.9M164.2 335.9H167.8M167.8 338.9V336.9M166 336.9H169.6M169.7 336.6V334.3M167.9 334.3H171.5M171.5 338.2V336.2M169.7 336.2H173.3M173.3 337.7V335.6M171.5 335.6H175.1M175.1 337.4V335.2M173.3 335.2H176.9M176.9 336.5V334.2M175.1 334.2H178.7M178.7 336.1V333.8M176.9 333.8H180.5M180.6 334.9V332.5M178.8 332.5H182.4M182.4 335V332.6M180.6 332.6H184.2M184.2 334.7V332.2M182.4 332.2H186M186 337V334.8M184.2 334.8H187.8M187.8 335.1V332.6M186 332.6H189.6M189.6 334.6V332.1M187.8 332.1H191.4M191.4 334.1V331.6M189.6 331.6H193.2M193.3 336.8V334.6M191.5 334.6H195.1M195.1 336.8V334.6M193.3 334.6H196.9M196.9 335.9V333.6M195.1 333.6H198.7M198.7 334.3V331.8M196.9 331.8H200.5M200.5 334.1V331.5M198.7 331.5H202.3M202.3 334.5V332M200.5 332H204.1M204.1 335.3V332.9M202.3 332.9H205.9M206 334.4V331.9M204.2 331.9H207.8M207.8 335.7V333.4M206 333.4H209.6M209.6 335.2V332.8M207.8 332.8H211.4M211.4 338V336M209.6 336H213.2M213.2 338.2V336.2M211.4 336.2H215M215 336.9V334.7M213.2 334.7H216.8M216.8 336.1V333.8M215 333.8H218.7M218.7 338.8V336.9M216.9 336.9H220.5" fill="none" stroke="#dc7a2c" stroke-width="1"/>
<path d="M53.5 339 L55.3 316 L57.1 277.6 L58.9 311.8 L60.8 308 L62.6 295 L64.4 301.6 L66.2 275.7 L68 290 L69.8 297.8 L71.7 313 L73.5 319.5 L75.3 329.2 L77.1 337.6 L78.9 340.4 L80.7 343.2 L82.5 348 L84.4 347.4 L86.2 348 L88 346.7 L89.8 345.3 L91.6 344.6 L93.4 344.1 L95.2 343.8 L97.1 341.8 L98.9 343.8 L100.7 341.5 L102.5 343.6 L104.3 342.4 L106.1 342.4 L107.9 343.5 L109.8 345 L111.6 343.8 L113.4 344.1 L115.2 345.6 L117 344.8 L118.8 344.4 L120.7 344.4 L122.5 344.1 L124.3 344.4 L126.1 344.5 L127.9 344 L129.7 344.6 L131.5 342.9 L133.4 342.9 L135.2 341.5 L137 341.4 L138.8 339.9 L140.6 340.1 L142.4 339.1 L144.2 341 L146.1 340.1 L147.9 338.6 L149.7 339.2 L151.5 340.4 L153.3 337.4 L155.1 339.4 L157 337.8 L158.8 337.7 L160.6 338.6 L162.4 337 L164.2 337.4 L166 337.9 L167.8 338.9 L169.7 336.6 L171.5 338.2 L173.3 337.7 L175.1 337.4 L176.9 336.5 L178.7 336.1 L180.6 334.9 L182.4 335 L184.2 334.7 L186 337 L187.8 335.1 L189.6 334.6 L191.4 334.1 L193.3 336.8 L195.1 336.8 L196.9 335.9 L198.7 334.3 L200.5 334.1 L202.3 334.5 L204.1 335.3 L206 334.4 L207.8 335.7 L209.6 335.2 L211.4 338 L213.2 338.2 L215 336.9 L216.8 336.1 L218.7 338.8" fill="none" stroke="none" marker-start="url(#cdc7a2c12)" marker-mid="url(#cdc7a2c12)" marker-end="url(#cdc7a2c12)"/>
<path d="M53.5 328.4 L55.3 301 L57.1 277 L58.9 299 L60.8 308 L62.6 296.6 L64.4 303.5 L66.2 281.4 L68 290.9 L69.8 306.7 L71.7 308 L73.5 319.5 L75.3 329.2 L77.1 337.6 L78.9 340.4 L80.7 343.2 L82.5 347.5 L84.4 347 L86.2 347.5 L88 346.5 L89.8 345 L91.6 344 L93.4 341.8 L95.2 340.5 L97.1 339.3 L98.9 340.2 L100.7 340.4 L102.5 340.3 L104.3 339.1 L106.1 340.8 L107.9 340.6 L109.8 342.5 L111.6 342.7 L113.4 344.1 L115.2 343.9 L117 343.6 L118.8 344 L120.7 343.6 L122.5 344.2 L124.3 343.6 L126.1 343.7 L127.9 342.9 L129.7 342.6 L131.5 342.6 L133.4 340.7 L135.2 340 L137 341.6 L138.8 338.5 L140.6 339.9 L142.4 339.1 L144.2 336.6 L146.1 338.7 L147.9 338.3 L149.7 336.6 L151.5 336.3 L153.3 335.9 L155.1 332.6 L157 333.4 L158.8 332.6 L160.6 333.3 L162.4 332.8 L164.2 332.4 L166 330.9 L167.8 331.8 L169.7 330.4 L171.5 330 L173.3 327.4 L175.1 326 L176.9 326 L178.7 326.6 L180.6 325 L182.4 328.7 L184.2 327.3 L186 327.6 L187.8 327.6 L189.6 327.9 L191.4 326.9 L193.3 324.5 L195.1 328.5 L196.9 328.2 L198.7 327 L200.5 327.2 L202.3 328 L204.1 325.3 L206 328.7 L207.8 326.6 L209.6 325.9 L211.4 327 L213.2 329.4 L215 327.1 L216.8 329.8 L218.7 331.1" fill="none" stroke="#b4272c" stroke-width="1.2" stroke-linejoin="round"/>
<path d="M53.5 328.4V326.4M51.7 326.4H55.3M55.3 301V296M53.5 296H57.1M57.1 277V270.9M55.3 270.9H58.9M58.9 299V294M57.1 294H60.7M60.8 308V300M59 300H62.6M62.6 296.6V292M60.8 292H64.4M64.4 303.5V299.5M62.6 299.5H66.2M66.2 281.4V273.4M64.4 273.4H68M68 290.9V280.9M66.2 280.9H69.8M69.8 306.7V302.9M68 302.9H71.6M71.7 308V304.3M69.9 304.3H73.5M73.5 319.5V316.8M71.7 316.8H75.3M75.3 329.2V326.2M73.5 326.2H77.1M77.1 337.6V336.3M75.3 336.3H78.9M78.9 340.4V333.4M77.1 333.4H80.7M80.7 343.2V342.4M78.9 342.4H82.5M89.8 345V341M88 341H91.6M93.4 341.8V340.3M91.6 340.3H95.2M95.2 340.5V338.8M93.4 338.8H97M97.1 339.3V337.4M95.3 337.4H98.9M98.9 340.2V338.5M97.1 338.5H100.7M100.7 340.4V338.6M98.9 338.6H102.5M102.5 340.3V338.5M100.7 338.5H104.3M104.3 339.1V337.2M102.5 337.2H106.1M106.1 340.8V339.1M104.3 339.1H107.9M107.9 340.6V338.9M106.1 338.9H109.7M109.8 342.5V341M108 341H111.6M111.6 342.7V341.3M109.8 341.3H113.4M113.4 344.1V342.9M111.6 342.9H115.2M115.2 343.9V342.6M113.4 342.6H117M117 343.6V342.3M115.2 342.3H118.8M118.8 344V342.8M117 342.8H120.6M120.7 343.6V342.3M118.9 342.3H122.5M122.5 344.2V343M120.7 343H124.3M124.3 343.6V342.3M122.5 342.3H126.1M126.1 343.7V342.4M124.3 342.4H127.9M127.9 342.9V341.5M126.1 341.5H129.7M129.7 342.6V341.2M127.9 341.2H131.5M131.5 342.6V341.2M129.7 341.2H133.3M133.4 340.7V339M131.6 339H135.2M135.2 340V338.2M133.4 338.2H137M137 341.6V340M135.2 340H138.8M138.8 338.5V336.5M137 336.5H140.6M140.6 339.9V338.1M138.8 338.1H142.4M142.4 339.1V337.2M140.6 337.2H144.2M144.2 336.6V334.4M142.4 334.4H146.1M146.1 338.7V336.8M144.3 336.8H147.9M147.9 338.3V336.2M146.1 336.2H149.7M149.7 336.6V334.4M147.9 334.4H151.5M151.5 336.3V334M149.7 334H153.3M153.3 335.9V333.6M151.5 333.6H155.1M155.1 332.6V329.8M153.3 329.8H156.9M157 333.4V330.7M155.2 330.7H158.8M158.8 332.6V329.8M157 329.8H160.6M160.6 333.3V330.7M158.8 330.7H162.4M162.4 332.8V330M160.6 330H164.2M164.2 332.4V329.6M162.4 329.6H166M166 330.9V327.9M164.2 327.9H167.8M167.8 331.8V329M166 329H169.6M169.7 330.4V327.4M167.9 327.4H171.5M171.5 330V326.9M169.7 326.9H173.3M173.3 327.4V324M171.5 324H175.1M175.1 326V322.4M173.3 322.4H176.9M176.9 326V322.4M175.1 322.4H178.7M178.7 326.6V323.1M176.9 323.1H180.5M180.6 325V321.3M178.8 321.3H182.4M182.4 328.7V325.4M180.6 325.4H184.2M184.2 327.3V323.9M182.4 323.9H186M186 327.6V324.2M184.2 324.2H187.8M187.8 327.6V324.2M186 324.2H189.6M189.6 327.9V324.5M187.8 324.5H191.4M191.4 326.9V323.5M189.6 323.5H193.2M193.3 324.5V320.8M191.5 320.8H195.1M195.1 328.5V325.2M193.3 325.2H196.9M196.9 328.2V324.9M195.1 324.9H198.7M198.7 327V323.5M196.9 323.5H200.5M200.5 327.2V323.8M198.7 323.8H202.3M202.3 328V324.7M200.5 324.7H204.1M204.1 325.3V321.6M202.3 321.6H205.9M206 328.7V325.5M204.2 325.5H207.8M207.8 326.6V323.1M206 323.1H209.6M209.6 325.9V322.3M207.8 322.3H211.4M211.4 327V323.6M209.6 323.6H213.2M213.2 329.4V326.3M211.4 326.3H215M215 327.1V323.7M213.2 323.7H216.8M216.8 329.8V326.7M215 326.7H218.7M218.7 331.1V328.2M216.9 328.2H220.5" fill="none" stroke="#b4272c" stroke-width="1"/>
<path d="M53.5 328.4 L55.3 301 L57.1 277 L58.9 299 L60.8 308 L62.6 296.6 L64.4 303.5 L66.2 281.4 L68 290.9 L69.8 306.7 L71.7 308 L73.5 319.5 L75.3 329.2 L77.1 337.6 L78.9 340.4 L80.7 343.2 L82.5 347.5 L84.4 347 L86.2 347.5 L88 346.5 L89.8 345 L91.6 344 L93.4 341.8 L95.2 340.5 L97.1 339.3 L98.9 340.2 L100.7 340.4 L102.5 340.3 L104.3 339.1 L106.1 340.8 L107.9 340.6 L109.8 342.5 L111.6 342.7 L113.4 344.1 L115.2 343.9 L117 343.6 L118.8 344 L120.7 343.6 L122.5 344.2 L124.3 343.6 L126.1 343.7 L127.9 342.9 L129.7 342.6 L131.5 342.6 L133.4 340.7 L135.2 340 L137 341.6 L138.8 338.5 L140.6 339.9 L142.4 339.1 L144.2 336.6 L146.1 338.7 L147.9 338.3 L149.7 336.6 L151.5 336.3 L153.3 335.9 L155.1 332.6 L157 333.4 L158.8 332.6 L160.6 333.3 L162.4 332.8 L164.2 332.4 L166 330.9 L167.8 331.8 L169.7 330.4 L171.5 330 L173.3 327.4 L175.1 326 L176.9 326 L178.7 326.6 L180.6 325 L182.4 328.7 L184.2 327.3 L186 327.6 L187.8 327.6 L189.6 327.9 L191.4 326.9 L193.3 324.5 L195.1 328.5 L196.9 328.2 L198.7 327 L200.5 327.2 L202.3 328 L204.1 325.3 L206 328.7 L207.8 326.6 L209.6 325.9 L211.4 327 L213.2 329.4 L215 327.1 L216.8 329.8 L218.7 331.1" fill="none" stroke="none" marker-start="url(#cb4272c12)" marker-mid="url(#cb4272c12)" marker-end="url(#cb4272c12)"/>
<g stroke="#262626" stroke-width="1.2" fill="none">
<path d="M291.5 232.3V353.5H482.3"/>
<path d="M282.3 353.5H291.5"/>
<path d="M282.3 313.5H291.5"/>
<path d="M282.3 272.5H291.5"/>
<path d="M282.3 232.5H291.5"/>
<path d="M291.5 353.5V359.7"/>
<path d="M327.5 353.5V359.7"/>
<path d="M364.5 353.5V359.7"/>
<path d="M400.5 353.5V359.7"/>
<path d="M436.5 353.5V359.7"/>
<path d="M473.5 353.5V359.7"/>
</g>
<g fill="#1c1a1b" font-size="11.3">
<text x="279.3" y="358.3" text-anchor="end">0</text>
<text x="279.3" y="317.8" text-anchor="end">500</text>
<text x="279.3" y="277.4" text-anchor="end">1000</text>
<text x="279.3" y="236.9" text-anchor="end">1500</text>
<text x="291.8" y="374" text-anchor="middle">0</text>
<text x="328.2" y="374" text-anchor="middle">1</text>
<text x="364.6" y="374" text-anchor="middle">2</text>
<text x="400.9" y="374" text-anchor="middle">3</text>
<text x="437.3" y="374" text-anchor="middle">4</text>
<text x="473.7" y="374" text-anchor="middle">5</text>
</g>
<text transform="translate(251.8 278.3) rotate(-90)" text-anchor="middle" font-size="11.4" letter-spacing="0.15" fill="#1c1a1b">CPS/OD</text>
<text x="373.8" y="391" font-size="11.3" letter-spacing="0.05" fill="#1c1a1b">Time (h)</text>
<path d="M291.3 343.6 L300.4 328.4 L309.5 332.8 L318.6 338.5 L327.7 344.2 L336.8 340.4 L345.9 345.3 L355 345.8 L364.1 348 L373.2 347.4 L382.2 349.4 L391.3 348.7 L400.4 347.6 L409.5 348 L418.6 349.4 L427.7 349.4 L436.8 349.4 L445.9 349.5 L455 349.5 L464.1 349.6 L473.2 349.6 L482.3 349.7" fill="none" stroke="#231f20" stroke-width="1.3" stroke-linejoin="round"/>
<path d="M300.4 328.4V326.4M298.1 326.4H302.7M336.8 340.4V338.4M334.5 338.4H339.1M391.3 348.7V346.7M389 346.7H393.6" fill="none" stroke="#231f20" stroke-width="1"/>
<path d="M291.3 343.6 L300.4 328.4 L309.5 332.8 L318.6 338.5 L327.7 344.2 L336.8 340.4 L345.9 345.3 L355 345.8 L364.1 348 L373.2 347.4 L382.2 349.4 L391.3 348.7 L400.4 347.6 L409.5 348 L418.6 349.4 L427.7 349.4 L436.8 349.4 L445.9 349.5 L455 349.5 L464.1 349.6 L473.2 349.6 L482.3 349.7" fill="none" stroke="none" marker-start="url(#c231f2013)" marker-mid="url(#c231f2013)" marker-end="url(#c231f2013)"/>
<path d="M291.3 329 L300.4 306.7 L309.5 299.7 L318.6 314 L327.7 327.2 L336.8 317.7 L345.9 324 L355 337.3 L364.1 339 L373.2 338.2 L382.2 340.4 L391.3 343.9 L400.4 345.3 L409.5 346.7 L418.6 348.7 L427.7 349 L436.8 349.9 L445.9 350 L455 350.2 L464.1 350.3 L473.2 350.4 L482.3 350.4" fill="none" stroke="#6b1f70" stroke-width="1.3" stroke-linejoin="round"/>
<path d="M336.8 317.7V312.7M334.5 312.7H339.1M345.9 324V320M343.6 320H348.2M355 337.3V334.3M352.7 334.3H357.3M373.2 338.2V332.2M370.9 332.2H375.5M382.2 340.4V336.4M379.9 336.4H384.6M400.4 345.3V343.3M398.1 343.3H402.7" fill="none" stroke="#6b1f70" stroke-width="1"/>
<path d="M291.3 329 L300.4 306.7 L309.5 299.7 L318.6 314 L327.7 327.2 L336.8 317.7 L345.9 324 L355 337.3 L364.1 339 L373.2 338.2 L382.2 340.4 L391.3 343.9 L400.4 345.3 L409.5 346.7 L418.6 348.7 L427.7 349 L436.8 349.9 L445.9 350 L455 350.2 L464.1 350.3 L473.2 350.4 L482.3 350.4" fill="none" stroke="none" marker-start="url(#c6b1f7013)" marker-mid="url(#c6b1f7013)" marker-end="url(#c6b1f7013)"/>
<path d="M291.3 333.5 L300.4 298.5 L309.5 283.2 L318.6 314.3 L327.7 313.7 L336.8 304.8 L345.9 298.5 L355 306 L364.1 317 L373.2 320.2 L382.2 332.7 L391.3 337.6 L400.4 342.5 L409.5 343.5 L418.6 346.7 L427.7 348.7 L436.8 349.4 L445.9 350 L455 350.2 L464.1 350.4 L473.2 350.6 L482.3 350.8" fill="none" stroke="#2d3c8e" stroke-width="1.3" stroke-linejoin="round"/>
<path d="M300.4 298.5V290.5M298.1 290.5H302.7M309.5 283.2V277.2M307.2 277.2H311.8M345.9 298.5V293.5M343.6 293.5H348.2M364.1 317V310M361.8 310H366.4M373.2 320.2V315.2M370.9 315.2H375.5M382.2 332.7V329.7M379.9 329.7H384.6M391.3 337.6V334.6M389 334.6H393.6" fill="none" stroke="#2d3c8e" stroke-width="1"/>
<path d="M291.3 333.5 L300.4 298.5 L309.5 283.2 L318.6 314.3 L327.7 313.7 L336.8 304.8 L345.9 298.5 L355 306 L364.1 317 L373.2 320.2 L382.2 332.7 L391.3 337.6 L400.4 342.5 L409.5 343.5 L418.6 346.7 L427.7 348.7 L436.8 349.4 L445.9 350 L455 350.2 L464.1 350.4 L473.2 350.6 L482.3 350.8" fill="none" stroke="none" marker-start="url(#c2d3c8e13)" marker-mid="url(#c2d3c8e13)" marker-end="url(#c2d3c8e13)"/>
<path d="M291.3 331.6 L300.4 312 L309.5 282 L318.6 322.7 L327.7 313.7 L336.8 294 L345.9 296 L355 287.7 L364.1 296 L373.2 299.7 L382.2 310 L391.3 319.5 L400.4 329.2 L409.5 337.6 L418.6 344.6 L427.7 346 L436.8 348 L445.9 348 L455 348.5 L464.1 348 L473.2 347.5 L482.3 346.5" fill="none" stroke="#207a3d" stroke-width="1.3" stroke-linejoin="round"/>
<path d="M336.8 294V287M334.5 287H339.1M373.2 299.7V295.7M370.9 295.7H375.5M409.5 337.6V331.6M407.2 331.6H411.8" fill="none" stroke="#207a3d" stroke-width="1"/>
<path d="M291.3 331.6 L300.4 312 L309.5 282 L318.6 322.7 L327.7 313.7 L336.8 294 L345.9 296 L355 287.7 L364.1 296 L373.2 299.7 L382.2 310 L391.3 319.5 L400.4 329.2 L409.5 337.6 L418.6 344.6 L427.7 346 L436.8 348 L445.9 348 L455 348.5 L464.1 348 L473.2 347.5 L482.3 346.5" fill="none" stroke="none" marker-start="url(#c207a3d13)" marker-mid="url(#c207a3d13)" marker-end="url(#c207a3d13)"/>
<path d="M291.3 335.4 L300.4 316 L309.5 282.7 L318.6 275.7 L327.7 313.7 L336.8 294.7 L345.9 289.6 L355 285.2 L364.1 286.5 L373.2 310.5 L382.2 309.2 L391.3 319.5 L400.4 329.2 L409.5 337.6 L418.6 342 L427.7 345.3 L436.8 348 L445.9 347.4 L455 348 L464.1 347 L473.2 346 L482.3 345" fill="none" stroke="#8c9c3a" stroke-width="1.3" stroke-linejoin="round"/>
<path d="M318.6 275.7V241.3M316.3 241.3H320.9M355 285.2V277.2M352.7 277.2H357.3M364.1 286.5V269M361.8 269H366.4M373.2 310.5V304.5M370.9 304.5H375.5" fill="none" stroke="#8c9c3a" stroke-width="1"/>
<path d="M291.3 335.4 L300.4 316 L309.5 282.7 L318.6 275.7 L327.7 313.7 L336.8 294.7 L345.9 289.6 L355 285.2 L364.1 286.5 L373.2 310.5 L382.2 309.2 L391.3 319.5 L400.4 329.2 L409.5 337.6 L418.6 342 L427.7 345.3 L436.8 348 L445.9 347.4 L455 348 L464.1 347 L473.2 346 L482.3 345" fill="none" stroke="none" marker-start="url(#c8c9c3a13)" marker-mid="url(#c8c9c3a13)" marker-end="url(#c8c9c3a13)"/>
<path d="M291.3 339 L300.4 316 L309.5 277.6 L318.6 311.8 L327.7 308 L336.8 295 L345.9 301.6 L355 275.7 L364.1 290 L373.2 297.8 L382.2 313 L391.3 319.5 L400.4 329.2 L409.5 337.6 L418.6 340.4 L427.7 343.2 L436.8 348 L445.9 347.4 L455 348 L464.1 346.7 L473.2 345.3 L482.3 344.6" fill="none" stroke="#dc7a2c" stroke-width="1.3" stroke-linejoin="round"/>
<path d="M309.5 277.6V271.6M307.2 271.6H311.8M355 275.7V261.7M352.7 261.7H357.3M373.2 297.8V292.8M370.9 292.8H375.5" fill="none" stroke="#dc7a2c" stroke-width="1"/>
<path d="M291.3 339 L300.4 316 L309.5 277.6 L318.6 311.8 L327.7 308 L336.8 295 L345.9 301.6 L355 275.7 L364.1 290 L373.2 297.8 L382.2 313 L391.3 319.5 L400.4 329.2 L409.5 337.6 L418.6 340.4 L427.7 343.2 L436.8 348 L445.9 347.4 L455 348 L464.1 346.7 L473.2 345.3 L482.3 344.6" fill="none" stroke="none" marker-start="url(#cdc7a2c13)" marker-mid="url(#cdc7a2c13)" marker-end="url(#cdc7a2c13)"/>
<path d="M291.3 328.4 L300.4 301 L309.5 277 L318.6 299 L327.7 308 L336.8 296.6 L345.9 303.5 L355 281.4 L364.1 290.9 L373.2 306.7 L382.2 308 L391.3 319.5 L400.4 329.2 L409.5 337.6 L418.6 340.4 L427.7 343.2 L436.8 347.5 L445.9 347 L455 347.5 L464.1 346.5 L473.2 345 L482.3 344" fill="none" stroke="#b4272c" stroke-width="1.3" stroke-linejoin="round"/>
<path d="M300.4 301V296M298.1 296H302.7M318.6 299V294M316.3 294H320.9M327.7 308V300M325.4 300H330M355 281.4V273.4M352.7 273.4H357.3M364.1 290.9V280.9M361.8 280.9H366.4M400.4 329.2V326.2M398.1 326.2H402.7M418.6 340.4V333.4M416.3 333.4H420.9M473.2 345V341M470.9 341H475.5" fill="none" stroke="#b4272c" stroke-width="1"/>
<path d="M291.3 328.4 L300.4 301 L309.5 277 L318.6 299 L327.7 308 L336.8 296.6 L345.9 303.5 L355 281.4 L364.1 290.9 L373.2 306.7 L382.2 308 L391.3 319.5 L400.4 329.2 L409.5 337.6 L418.6 340.4 L427.7 343.2 L436.8 347.5 L445.9 347 L455 347.5 L464.1 346.5 L473.2 345 L482.3 344" fill="none" stroke="none" marker-start="url(#cb4272c13)" marker-mid="url(#cb4272c13)" marker-end="url(#cb4272c13)"/>
<g stroke="#262626" stroke-width="1.2" fill="none">
<path d="M522.5 48.3V168.5H704.5"/>
<path d="M513.5 168.5H522.5"/>
<path d="M513.5 144.5H522.5"/>
<path d="M513.5 120.5H522.5"/>
<path d="M513.5 96.5H522.5"/>
<path d="M513.5 72.5H522.5"/>
<path d="M513.5 48.5H522.5"/>
<path d="M522.5 168.5V174.6"/>
<path d="M558.5 168.5V174.6"/>
<path d="M595.5 168.5V174.6"/>
<path d="M631.5 168.5V174.6"/>
<path d="M668.5 168.5V174.6"/>
<path d="M704.5 168.5V174.6"/>
</g>
<g fill="#1c1a1b" font-size="11.3">
<text x="511.3" y="173.2" text-anchor="end">0.0</text>
<text x="511.3" y="149.1" text-anchor="end">0.2</text>
<text x="511.3" y="125.1" text-anchor="end">0.4</text>
<text x="511.3" y="101" text-anchor="end">0.6</text>
<text x="511.3" y="77" text-anchor="end">0.8</text>
<text x="511.3" y="52.9" text-anchor="end">1.0</text>
<text x="523" y="189.2" text-anchor="middle">0</text>
<text x="559.4" y="189.2" text-anchor="middle">5</text>
<text x="595.8" y="189.2" text-anchor="middle">10</text>
<text x="632.2" y="189.2" text-anchor="middle">15</text>
<text x="668.6" y="189.2" text-anchor="middle">20</text>
<text x="705" y="189.2" text-anchor="middle">25</text>
</g>
<text transform="translate(487.8 108.3) rotate(-90)" font-size="11.3" fill="#1c1a1b" text-anchor="middle">OD<tspan font-size="6.8" dy="2.6" dx="0.3">600</tspan></text>
<text x="535" y="44.2" font-size="11.3" letter-spacing="0.33" fill="#1c1a1b">growth curve (tunicamycin)</text>
<text x="591.8" y="202.5" font-size="11.3" letter-spacing="0.05" fill="#1c1a1b">Time (h)</text>
<path d="M522.5 158.5 L524.3 158.4 L526.1 158 L528 156.8 L529.8 155 L531.6 152.7 L533.4 149.9 L535.2 146.7 L537.1 143.5 L538.9 140.1 L540.7 136.8 L542.5 133.5 L544.3 130.5 L546.2 128.1 L548 125.9 L549.8 123.9 L551.6 121.9 L553.4 120 L555.3 118.5 L557.1 117.3 L558.9 116.1 L560.7 115.1 L562.5 114.2 L564.4 113.6 L566.2 113.2 L568 112.8 L569.8 112.6 L571.6 112.5 L573.5 112.4 L575.3 112.3 L577.1 112.3 L578.9 112.3 L580.7 112.3 L582.6 112.3 L584.4 112.3 L586.2 112.4 L588 112.4 L589.8 112.5 L591.7 112.5 L593.5 112.6 L595.3 112.6 L597.1 112.7 L598.9 112.8 L600.8 112.8 L602.6 112.9 L604.4 113 L606.2 113.1 L608 113.2 L609.9 113.3 L611.7 113.4 L613.5 113.5 L615.3 113.5 L617.1 113.6 L619 113.7 L620.8 113.8 L622.6 113.9 L624.4 114 L626.2 114.2 L628.1 114.3 L629.9 114.4 L631.7 114.5 L633.5 114.7 L635.3 114.8 L637.2 114.9 L639 115.1 L640.8 115.2 L642.6 115.4 L644.4 115.5 L646.3 115.7 L648.1 115.8 L649.9 116 L651.7 116.2 L653.5 116.3 L655.4 116.5 L657.2 116.7 L659 116.9 L660.8 117.1 L662.6 117.3 L664.5 117.5 L666.3 117.7 L668.1 117.9 L669.9 118.1 L671.7 118.3 L673.6 118.5 L675.4 118.7 L677.2 118.8 L679 119 L680.8 119.2 L682.7 119.3 L684.5 119.5 L686.3 119.6 L688.1 119.7 L689.9 119.8" fill="none" stroke="#6fa8dc" stroke-width="1.8" stroke-linejoin="round"/>
<path d="M522.5 158.5 L524.3 158.4 L526.1 158 L528 156.8 L529.8 155 L531.6 152.7 L533.4 149.9 L535.2 146.7 L537.1 143.5 L538.9 140.1 L540.7 136.8 L542.5 133.5 L544.3 130.5 L546.2 128.1 L548 125.9 L549.8 123.9 L551.6 121.9 L553.4 120 L555.3 118.5 L557.1 117.3 L558.9 116.1 L560.7 115.1 L562.5 114.2 L564.4 113.6 L566.2 113.2 L568 112.8 L569.8 112.6 L571.6 112.5 L573.5 112.4 L575.3 112.3 L577.1 112.3 L578.9 112.3 L580.7 112.3 L582.6 112.3 L584.4 112.3 L586.2 112.4 L588 112.4 L589.8 112.5 L591.7 112.5 L593.5 112.6 L595.3 112.6 L597.1 112.7 L598.9 112.8 L600.8 112.8 L602.6 112.9 L604.4 113 L606.2 113.1 L608 113.2 L609.9 113.3 L611.7 113.4 L613.5 113.5 L615.3 113.5 L617.1 113.6 L619 113.7 L620.8 113.8 L622.6 113.9 L624.4 114 L626.2 114.2 L628.1 114.3 L629.9 114.4 L631.7 114.5 L633.5 114.7 L635.3 114.8 L637.2 114.9 L639 115.1 L640.8 115.2 L642.6 115.4 L644.4 115.5 L646.3 115.7 L648.1 115.8 L649.9 116 L651.7 116.2 L653.5 116.3 L655.4 116.5 L657.2 116.7 L659 116.9 L660.8 117.1 L662.6 117.3 L664.5 117.5 L666.3 117.7 L668.1 117.9 L669.9 118.1 L671.7 118.3 L673.6 118.5 L675.4 118.7 L677.2 118.8 L679 119 L680.8 119.2 L682.7 119.3 L684.5 119.5 L686.3 119.6 L688.1 119.7 L689.9 119.8" fill="none" stroke="none" marker-start="url(#l6fa8dc130909)" marker-mid="url(#l6fa8dc130909)" marker-end="url(#l6fa8dc130909)"/>
<path d="M522.5 158.5 L524.3 158.1 L526.1 157.8 L528 156.4 L529.8 154.5 L531.6 152.5 L533.4 150 L535.2 147.5 L537.1 142.5 L538.9 136 L540.7 129.5 L542.5 123 L544.3 116.6 L546.2 111.4 L548 107 L549.8 102.7 L551.6 98.5 L553.4 94.8 L555.3 91.1 L557.1 87.4 L558.9 83.3 L560.7 79 L562.5 74.8 L564.4 71.8 L566.2 70.2 L568 69.4 L569.8 69.4 L571.6 69.4 L573.5 69.4 L575.3 70.4 L577.1 69.9 L578.9 68.5 L580.7 67.6 L582.6 67.4 L584.4 67.3 L586.2 67.2 L588 67.1 L589.8 67 L591.7 66.9 L593.5 66.8 L595.3 66.7 L597.1 66.6 L598.9 66.5 L600.8 66.4 L602.6 66.2 L604.4 66.1 L606.2 66 L608 65.9 L609.9 65.8 L611.7 65.7 L613.5 65.6 L615.3 65.5 L617.1 65.4 L619 65.3 L620.8 65.2 L622.6 65.1 L624.4 65 L626.2 64.9 L628.1 64.7 L629.9 64.6 L631.7 64.5 L633.5 64.4 L635.3 64.3 L637.2 64.2 L639 64.1 L640.8 64 L642.6 63.9 L644.4 63.8 L646.3 63.7 L648.1 63.6 L649.9 63.5 L651.7 63.4 L653.5 63.3 L655.4 63.2 L657.2 63.1 L659 63 L660.8 62.9 L662.6 62.8 L664.5 62.7 L666.3 62.6 L668.1 62.5 L669.9 62.4 L671.7 62.3 L673.6 62.2 L675.4 62.1 L677.2 62 L679 61.9 L680.8 61.8 L682.7 61.7 L684.5 61.6 L686.3 61.5 L688.1 61.4 L689.9 61.2" fill="none" stroke="#231f20" stroke-width="1.1" stroke-linejoin="round"/>
<path d="M522.5 158.5 L524.3 158.1 L526.1 157.8 L528 156.4 L529.8 154.5 L531.6 152.5 L533.4 150 L535.2 147.5 L537.1 142.5 L538.9 136 L540.7 129.5 L542.5 123 L544.3 116.6 L546.2 111.4 L548 107 L549.8 102.7 L551.6 98.5 L553.4 94.8 L555.3 91.1 L557.1 87.4 L558.9 83.3 L560.7 79 L562.5 74.8 L564.4 71.8 L566.2 70.2 L568 69.4 L569.8 69.4 L571.6 69.4 L573.5 69.4 L575.3 70.4 L577.1 69.9 L578.9 68.5 L580.7 67.6 L582.6 67.4 L584.4 67.3 L586.2 67.2 L588 67.1 L589.8 67 L591.7 66.9 L593.5 66.8 L595.3 66.7 L597.1 66.6 L598.9 66.5 L600.8 66.4 L602.6 66.2 L604.4 66.1 L606.2 66 L608 65.9 L609.9 65.8 L611.7 65.7 L613.5 65.6 L615.3 65.5 L617.1 65.4 L619 65.3 L620.8 65.2 L622.6 65.1 L624.4 65 L626.2 64.9 L628.1 64.7 L629.9 64.6 L631.7 64.5 L633.5 64.4 L635.3 64.3 L637.2 64.2 L639 64.1 L640.8 64 L642.6 63.9 L644.4 63.8 L646.3 63.7 L648.1 63.6 L649.9 63.5 L651.7 63.4 L653.5 63.3 L655.4 63.2 L657.2 63.1 L659 63 L660.8 62.9 L662.6 62.8 L664.5 62.7 L666.3 62.6 L668.1 62.5 L669.9 62.4 L671.7 62.3 L673.6 62.2 L675.4 62.1 L677.2 62 L679 61.9 L680.8 61.8 L682.7 61.7 L684.5 61.6 L686.3 61.5 L688.1 61.4 L689.9 61.2" fill="none" stroke="none" marker-start="url(#l231f202109510)" marker-mid="url(#l231f202109510)" marker-end="url(#l231f202109510)"/>
<path d="M522.5 158.5 L524.3 158.4 L526.1 158 L528 156.8 L529.8 155 L531.6 152.7 L533.4 149.9 L535.2 146.7 L537.1 143.4 L538.9 140 L540.7 137 L542.5 134.6 L544.3 132.5 L546.2 130.5 L548 128.5 L549.8 126.8 L551.6 125.3 L553.4 124 L555.3 122.7 L557.1 121.6 L558.9 120.5 L560.7 119.5 L562.5 118.7 L564.4 118 L566.2 117.5 L568 117.2 L569.8 116.9 L571.6 116.7 L573.5 116.5 L575.3 116.4 L577.1 116.3 L578.9 116.2 L580.7 116.2 L582.6 116.2 L584.4 116.1 L586.2 116.1 L588 116.1 L589.8 116.1 L591.7 116.1 L593.5 116.1 L595.3 116.1 L597.1 116.1 L598.9 116.2 L600.8 116.2 L602.6 116.2 L604.4 116.2 L606.2 116.2 L608 116.3 L609.9 116.3 L611.7 116.3 L613.5 116.3 L615.3 116.4 L617.1 116.4 L619 116.4 L620.8 116.4 L622.6 116.4 L624.4 116.4 L626.2 116.4 L628.1 116.5 L629.9 116.5 L631.7 116.5 L633.5 116.5 L635.3 116.5 L637.2 116.6 L639 116.6 L640.8 116.6 L642.6 116.6 L644.4 116.6 L646.3 116.7 L648.1 116.7 L649.9 116.7 L651.7 116.7 L653.5 116.7 L655.4 116.8 L657.2 116.8 L659 116.8 L660.8 116.8 L662.6 116.9 L664.5 116.9 L666.3 116.9 L668.1 116.9 L669.9 117 L671.7 117 L673.6 117 L675.4 117.1 L677.2 117.1 L679 117.1 L680.8 117.1 L682.7 117.1 L684.5 117.2 L686.3 117.2 L688.1 117.2 L689.9 117.2" fill="none" stroke="#2d3c8e" stroke-width="1.8" stroke-linejoin="round"/>
<path d="M522.5 158.5 L524.3 158.4 L526.1 158 L528 156.8 L529.8 155 L531.6 152.7 L533.4 149.9 L535.2 146.7 L537.1 143.4 L538.9 140 L540.7 137 L542.5 134.6 L544.3 132.5 L546.2 130.5 L548 128.5 L549.8 126.8 L551.6 125.3 L553.4 124 L555.3 122.7 L557.1 121.6 L558.9 120.5 L560.7 119.5 L562.5 118.7 L564.4 118 L566.2 117.5 L568 117.2 L569.8 116.9 L571.6 116.7 L573.5 116.5 L575.3 116.4 L577.1 116.3 L578.9 116.2 L580.7 116.2 L582.6 116.2 L584.4 116.1 L586.2 116.1 L588 116.1 L589.8 116.1 L591.7 116.1 L593.5 116.1 L595.3 116.1 L597.1 116.1 L598.9 116.2 L600.8 116.2 L602.6 116.2 L604.4 116.2 L606.2 116.2 L608 116.3 L609.9 116.3 L611.7 116.3 L613.5 116.3 L615.3 116.4 L617.1 116.4 L619 116.4 L620.8 116.4 L622.6 116.4 L624.4 116.4 L626.2 116.4 L628.1 116.5 L629.9 116.5 L631.7 116.5 L633.5 116.5 L635.3 116.5 L637.2 116.6 L639 116.6 L640.8 116.6 L642.6 116.6 L644.4 116.6 L646.3 116.7 L648.1 116.7 L649.9 116.7 L651.7 116.7 L653.5 116.7 L655.4 116.8 L657.2 116.8 L659 116.8 L660.8 116.8 L662.6 116.9 L664.5 116.9 L666.3 116.9 L668.1 116.9 L669.9 117 L671.7 117 L673.6 117 L675.4 117.1 L677.2 117.1 L679 117.1 L680.8 117.1 L682.7 117.1 L684.5 117.2 L686.3 117.2 L688.1 117.2 L689.9 117.2" fill="none" stroke="none" marker-start="url(#l2d3c8e130909)" marker-mid="url(#l2d3c8e130909)" marker-end="url(#l2d3c8e130909)"/>
<path d="M522.5 158.5 L524.3 158.4 L526.1 158 L528 156.8 L529.8 155 L531.6 152.7 L533.4 149.9 L535.2 146.7 L537.1 143.4 L538.9 140 L540.7 137 L542.5 134.6 L544.3 132.5 L546.2 130.6 L548 128.9 L549.8 127.3 L551.6 125.9 L553.4 124.5 L555.3 123.3 L557.1 122.1 L558.9 121 L560.7 120 L562.5 119.2 L564.4 118.5 L566.2 118 L568 117.6 L569.8 117.3 L571.6 117.1 L573.5 116.9 L575.3 116.8 L577.1 116.6 L578.9 116.5 L580.7 116.5 L582.6 116.4 L584.4 116.4 L586.2 116.3 L588 116.3 L589.8 116.2 L591.7 116.2 L593.5 116.2 L595.3 116.1 L597.1 116.1 L598.9 116.1 L600.8 116.1 L602.6 116.1 L604.4 116.1 L606.2 116.1 L608 116.1 L609.9 116 L611.7 116 L613.5 116 L615.3 116 L617.1 116 L619 116 L620.8 116 L622.6 116 L624.4 116 L626.2 116 L628.1 116 L629.9 116 L631.7 116 L633.5 116 L635.3 116 L637.2 116 L639 116 L640.8 116 L642.6 116 L644.4 116 L646.3 116 L648.1 116 L649.9 116 L651.7 116 L653.5 116 L655.4 116 L657.2 116.1 L659 116.1 L660.8 116.1 L662.6 116.1 L664.5 116.1 L666.3 116.2 L668.1 116.2 L669.9 116.2 L671.7 116.2 L673.6 116.2 L675.4 116.3 L677.2 116.3 L679 116.3 L680.8 116.3 L682.7 116.3 L684.5 116.4 L686.3 116.4 L688.1 116.4 L689.9 116.4" fill="none" stroke="#6b1f70" stroke-width="1.8" stroke-linejoin="round"/>
<path d="M522.5 158.5 L524.3 158.4 L526.1 158 L528 156.8 L529.8 155 L531.6 152.7 L533.4 149.9 L535.2 146.7 L537.1 143.4 L538.9 140 L540.7 137 L542.5 134.6 L544.3 132.5 L546.2 130.6 L548 128.9 L549.8 127.3 L551.6 125.9 L553.4 124.5 L555.3 123.3 L557.1 122.1 L558.9 121 L560.7 120 L562.5 119.2 L564.4 118.5 L566.2 118 L568 117.6 L569.8 117.3 L571.6 117.1 L573.5 116.9 L575.3 116.8 L577.1 116.6 L578.9 116.5 L580.7 116.5 L582.6 116.4 L584.4 116.4 L586.2 116.3 L588 116.3 L589.8 116.2 L591.7 116.2 L593.5 116.2 L595.3 116.1 L597.1 116.1 L598.9 116.1 L600.8 116.1 L602.6 116.1 L604.4 116.1 L606.2 116.1 L608 116.1 L609.9 116 L611.7 116 L613.5 116 L615.3 116 L617.1 116 L619 116 L620.8 116 L622.6 116 L624.4 116 L626.2 116 L628.1 116 L629.9 116 L631.7 116 L633.5 116 L635.3 116 L637.2 116 L639 116 L640.8 116 L642.6 116 L644.4 116 L646.3 116 L648.1 116 L649.9 116 L651.7 116 L653.5 116 L655.4 116 L657.2 116.1 L659 116.1 L660.8 116.1 L662.6 116.1 L664.5 116.1 L666.3 116.2 L668.1 116.2 L669.9 116.2 L671.7 116.2 L673.6 116.2 L675.4 116.3 L677.2 116.3 L679 116.3 L680.8 116.3 L682.7 116.3 L684.5 116.4 L686.3 116.4 L688.1 116.4 L689.9 116.4" fill="none" stroke="none" marker-start="url(#l6b1f70130909)" marker-mid="url(#l6b1f70130909)" marker-end="url(#l6b1f70130909)"/>
<path d="M522.5 158.5 L524.3 158.4 L526.1 158 L528 156.8 L529.8 155 L531.6 152.7 L533.4 149.9 L535.2 146.7 L537.1 143.4 L538.9 139.9 L540.7 137.1 L542.5 134.9 L544.3 133 L546.2 131.1 L548 129.3 L549.8 127.8 L551.6 126.6 L553.4 125.5 L555.3 124.6 L557.1 123.8 L558.9 123 L560.7 122.3 L562.5 121.7 L564.4 121.3 L566.2 121 L568 120.8 L569.8 120.7 L571.6 120.6 L573.5 120.5 L575.3 120.5 L577.1 120.5 L578.9 120.5 L580.7 120.5 L582.6 120.6 L584.4 120.6 L586.2 120.7 L588 120.7 L589.8 120.8 L591.7 120.9 L593.5 121 L595.3 121 L597.1 121.1 L598.9 121.2 L600.8 121.3 L602.6 121.4 L604.4 121.5 L606.2 121.6 L608 121.7 L609.9 121.8 L611.7 121.9 L613.5 122 L615.3 122 L617.1 122.1 L619 122.2 L620.8 122.3 L622.6 122.4 L624.4 122.5 L626.2 122.7 L628.1 122.8 L629.9 122.9 L631.7 123 L633.5 123.1 L635.3 123.3 L637.2 123.4 L639 123.5 L640.8 123.6 L642.6 123.7 L644.4 123.9 L646.3 124 L648.1 124.1 L649.9 124.2 L651.7 124.3 L653.5 124.4 L655.4 124.5 L657.2 124.6 L659 124.7 L660.8 124.9 L662.6 125 L664.5 125.1 L666.3 125.2 L668.1 125.3 L669.9 125.4 L671.7 125.5 L673.6 125.6 L675.4 125.7 L677.2 125.8 L679 125.9 L680.8 126 L682.7 126.1 L684.5 126.1 L686.3 126.2 L688.1 126.2 L689.9 126.3" fill="none" stroke="#207a3d" stroke-width="1.8" stroke-linejoin="round"/>
<path d="M522.5 158.5 L524.3 158.4 L526.1 158 L528 156.8 L529.8 155 L531.6 152.7 L533.4 149.9 L535.2 146.7 L537.1 143.4 L538.9 139.9 L540.7 137.1 L542.5 134.9 L544.3 133 L546.2 131.1 L548 129.3 L549.8 127.8 L551.6 126.6 L553.4 125.5 L555.3 124.6 L557.1 123.8 L558.9 123 L560.7 122.3 L562.5 121.7 L564.4 121.3 L566.2 121 L568 120.8 L569.8 120.7 L571.6 120.6 L573.5 120.5 L575.3 120.5 L577.1 120.5 L578.9 120.5 L580.7 120.5 L582.6 120.6 L584.4 120.6 L586.2 120.7 L588 120.7 L589.8 120.8 L591.7 120.9 L593.5 121 L595.3 121 L597.1 121.1 L598.9 121.2 L600.8 121.3 L602.6 121.4 L604.4 121.5 L606.2 121.6 L608 121.7 L609.9 121.8 L611.7 121.9 L613.5 122 L615.3 122 L617.1 122.1 L619 122.2 L620.8 122.3 L622.6 122.4 L624.4 122.5 L626.2 122.7 L628.1 122.8 L629.9 122.9 L631.7 123 L633.5 123.1 L635.3 123.3 L637.2 123.4 L639 123.5 L640.8 123.6 L642.6 123.7 L644.4 123.9 L646.3 124 L648.1 124.1 L649.9 124.2 L651.7 124.3 L653.5 124.4 L655.4 124.5 L657.2 124.6 L659 124.7 L660.8 124.9 L662.6 125 L664.5 125.1 L666.3 125.2 L668.1 125.3 L669.9 125.4 L671.7 125.5 L673.6 125.6 L675.4 125.7 L677.2 125.8 L679 125.9 L680.8 126 L682.7 126.1 L684.5 126.1 L686.3 126.2 L688.1 126.2 L689.9 126.3" fill="none" stroke="none" marker-start="url(#l207a3d130909)" marker-mid="url(#l207a3d130909)" marker-end="url(#l207a3d130909)"/>
<path d="M522.5 158.5 L524.3 158.4 L526.1 158 L528 156.8 L529.8 155 L531.6 152.7 L533.4 149.9 L535.2 146.7 L537.1 143.4 L538.9 140 L540.7 137 L542.5 134.6 L544.3 132.5 L546.2 130.4 L548 128.4 L549.8 126.8 L551.6 125.5 L553.4 124.5 L555.3 123.6 L557.1 122.8 L558.9 122 L560.7 121.3 L562.5 120.7 L564.4 120.3 L566.2 120 L568 119.8 L569.8 119.6 L571.6 119.5 L573.5 119.4 L575.3 119.4 L577.1 119.4 L578.9 119.4 L580.7 119.4 L582.6 119.5 L584.4 119.5 L586.2 119.6 L588 119.7 L589.8 119.8 L591.7 119.9 L593.5 120 L595.3 120.1 L597.1 120.2 L598.9 120.3 L600.8 120.4 L602.6 120.5 L604.4 120.6 L606.2 120.7 L608 120.8 L609.9 120.9 L611.7 121 L613.5 121.1 L615.3 121.2 L617.1 121.3 L619 121.4 L620.8 121.5 L622.6 121.6 L624.4 121.7 L626.2 121.8 L628.1 121.9 L629.9 122 L631.7 122.1 L633.5 122.2 L635.3 122.3 L637.2 122.3 L639 122.4 L640.8 122.5 L642.6 122.6 L644.4 122.7 L646.3 122.8 L648.1 122.9 L649.9 123 L651.7 123.1 L653.5 123.2 L655.4 123.3 L657.2 123.4 L659 123.6 L660.8 123.7 L662.6 123.8 L664.5 123.9 L666.3 124 L668.1 124.2 L669.9 124.3 L671.7 124.4 L673.6 124.5 L675.4 124.6 L677.2 124.7 L679 124.8 L680.8 124.9 L682.7 125 L684.5 125.1 L686.3 125.2 L688.1 125.2 L689.9 125.3" fill="none" stroke="#8c9c3a" stroke-width="1.8" stroke-linejoin="round"/>
<path d="M522.5 158.5 L524.3 158.4 L526.1 158 L528 156.8 L529.8 155 L531.6 152.7 L533.4 149.9 L535.2 146.7 L537.1 143.4 L538.9 140 L540.7 137 L542.5 134.6 L544.3 132.5 L546.2 130.4 L548 128.4 L549.8 126.8 L551.6 125.5 L553.4 124.5 L555.3 123.6 L557.1 122.8 L558.9 122 L560.7 121.3 L562.5 120.7 L564.4 120.3 L566.2 120 L568 119.8 L569.8 119.6 L571.6 119.5 L573.5 119.4 L575.3 119.4 L577.1 119.4 L578.9 119.4 L580.7 119.4 L582.6 119.5 L584.4 119.5 L586.2 119.6 L588 119.7 L589.8 119.8 L591.7 119.9 L593.5 120 L595.3 120.1 L597.1 120.2 L598.9 120.3 L600.8 120.4 L602.6 120.5 L604.4 120.6 L606.2 120.7 L608 120.8 L609.9 120.9 L611.7 121 L613.5 121.1 L615.3 121.2 L617.1 121.3 L619 121.4 L620.8 121.5 L622.6 121.6 L624.4 121.7 L626.2 121.8 L628.1 121.9 L629.9 122 L631.7 122.1 L633.5 122.2 L635.3 122.3 L637.2 122.3 L639 122.4 L640.8 122.5 L642.6 122.6 L644.4 122.7 L646.3 122.8 L648.1 122.9 L649.9 123 L651.7 123.1 L653.5 123.2 L655.4 123.3 L657.2 123.4 L659 123.6 L660.8 123.7 L662.6 123.8 L664.5 123.9 L666.3 124 L668.1 124.2 L669.9 124.3 L671.7 124.4 L673.6 124.5 L675.4 124.6 L677.2 124.7 L679 124.8 L680.8 124.9 L682.7 125 L684.5 125.1 L686.3 125.2 L688.1 125.2 L689.9 125.3" fill="none" stroke="none" marker-start="url(#l8c9c3a130909)" marker-mid="url(#l8c9c3a130909)" marker-end="url(#l8c9c3a130909)"/>
<path d="M522.5 158.5 L524.3 158.4 L526.1 158 L528 156.8 L529.8 155 L531.6 152.7 L533.4 149.9 L535.2 146.7 L537.1 143.4 L538.9 140 L540.7 136.9 L542.5 134 L544.3 131.5 L546.2 129.2 L548 127 L549.8 125.3 L551.6 124 L553.4 123 L555.3 122.1 L557.1 121.3 L558.9 120.5 L560.7 119.6 L562.5 118.6 L564.4 118.1 L566.2 117.9 L568 117.7 L569.8 117.7 L571.6 117.7 L573.5 117.7 L575.3 117.8 L577.1 117.9 L578.9 118 L580.7 118 L582.6 118.1 L584.4 118.2 L586.2 118.2 L588 118.3 L589.8 118.4 L591.7 118.4 L593.5 118.5 L595.3 118.6 L597.1 118.7 L598.9 118.8 L600.8 118.9 L602.6 119 L604.4 119 L606.2 119.1 L608 119.2 L609.9 119.3 L611.7 119.4 L613.5 119.5 L615.3 119.6 L617.1 119.7 L619 119.7 L620.8 119.8 L622.6 119.9 L624.4 120 L626.2 120.1 L628.1 120.1 L629.9 120.2 L631.7 120.3 L633.5 120.4 L635.3 120.5 L637.2 120.5 L639 120.6 L640.8 120.7 L642.6 120.8 L644.4 120.9 L646.3 121 L648.1 121.1 L649.9 121.2 L651.7 121.3 L653.5 121.4 L655.4 121.6 L657.2 121.7 L659 121.9 L660.8 122 L662.6 122.2 L664.5 122.3 L666.3 122.5 L668.1 122.7 L669.9 122.8 L671.7 123 L673.6 123.1 L675.4 123.3 L677.2 123.4 L679 123.6 L680.8 123.7 L682.7 123.8 L684.5 123.9 L686.3 124 L688.1 124.1 L689.9 124.2" fill="none" stroke="#dc7a2c" stroke-width="1.8" stroke-linejoin="round"/>
<path d="M522.5 158.5 L524.3 158.4 L526.1 158 L528 156.8 L529.8 155 L531.6 152.7 L533.4 149.9 L535.2 146.7 L537.1 143.4 L538.9 140 L540.7 136.9 L542.5 134 L544.3 131.5 L546.2 129.2 L548 127 L549.8 125.3 L551.6 124 L553.4 123 L555.3 122.1 L557.1 121.3 L558.9 120.5 L560.7 119.6 L562.5 118.6 L564.4 118.1 L566.2 117.9 L568 117.7 L569.8 117.7 L571.6 117.7 L573.5 117.7 L575.3 117.8 L577.1 117.9 L578.9 118 L580.7 118 L582.6 118.1 L584.4 118.2 L586.2 118.2 L588 118.3 L589.8 118.4 L591.7 118.4 L593.5 118.5 L595.3 118.6 L597.1 118.7 L598.9 118.8 L600.8 118.9 L602.6 119 L604.4 119 L606.2 119.1 L608 119.2 L609.9 119.3 L611.7 119.4 L613.5 119.5 L615.3 119.6 L617.1 119.7 L619 119.7 L620.8 119.8 L622.6 119.9 L624.4 120 L626.2 120.1 L628.1 120.1 L629.9 120.2 L631.7 120.3 L633.5 120.4 L635.3 120.5 L637.2 120.5 L639 120.6 L640.8 120.7 L642.6 120.8 L644.4 120.9 L646.3 121 L648.1 121.1 L649.9 121.2 L651.7 121.3 L653.5 121.4 L655.4 121.6 L657.2 121.7 L659 121.9 L660.8 122 L662.6 122.2 L664.5 122.3 L666.3 122.5 L668.1 122.7 L669.9 122.8 L671.7 123 L673.6 123.1 L675.4 123.3 L677.2 123.4 L679 123.6 L680.8 123.7 L682.7 123.8 L684.5 123.9 L686.3 124 L688.1 124.1 L689.9 124.2" fill="none" stroke="none" marker-start="url(#ldc7a2c130909)" marker-mid="url(#ldc7a2c130909)" marker-end="url(#ldc7a2c130909)"/>
<path d="M522.5 158.5 L524.3 158.4 L526.1 158 L528 156.8 L529.8 155 L531.6 152.7 L533.4 149.9 L535.2 146.7 L537.1 143.4 L538.9 139.9 L540.7 137.1 L542.5 134.9 L544.3 133 L546.2 131.1 L548 129.5 L549.8 128.3 L551.6 127.3 L553.4 126.3 L555.3 125 L557.1 123.7 L558.9 122.5 L560.7 121.4 L562.5 120.4 L564.4 119.5 L566.2 118.6 L568 117.8 L569.8 117.2 L571.6 116.8 L573.5 116.5 L575.3 116.4 L577.1 116.3 L578.9 116.3 L580.7 116.3 L582.6 116.3 L584.4 116.3 L586.2 116.4 L588 116.4 L589.8 116.4 L591.7 116.5 L593.5 116.5 L595.3 116.5 L597.1 116.6 L598.9 116.6 L600.8 116.7 L602.6 116.7 L604.4 116.7 L606.2 116.8 L608 116.8 L609.9 116.9 L611.7 116.9 L613.5 117 L615.3 117.1 L617.1 117.1 L619 117.2 L620.8 117.2 L622.6 117.3 L624.4 117.3 L626.2 117.4 L628.1 117.5 L629.9 117.5 L631.7 117.6 L633.5 117.7 L635.3 117.7 L637.2 117.8 L639 117.9 L640.8 118 L642.6 118.1 L644.4 118.2 L646.3 118.3 L648.1 118.4 L649.9 118.5 L651.7 118.6 L653.5 118.7 L655.4 118.9 L657.2 119 L659 119.2 L660.8 119.3 L662.6 119.5 L664.5 119.7 L666.3 119.8 L668.1 120 L669.9 120.2 L671.7 120.3 L673.6 120.5 L675.4 120.7 L677.2 120.8 L679 120.9 L680.8 121.1 L682.7 121.2 L684.5 121.3 L686.3 121.4 L688.1 121.5 L689.9 121.6" fill="none" stroke="#b4272c" stroke-width="1.8" stroke-linejoin="round"/>
<path d="M522.5 158.5 L524.3 158.4 L526.1 158 L528 156.8 L529.8 155 L531.6 152.7 L533.4 149.9 L535.2 146.7 L537.1 143.4 L538.9 139.9 L540.7 137.1 L542.5 134.9 L544.3 133 L546.2 131.1 L548 129.5 L549.8 128.3 L551.6 127.3 L553.4 126.3 L555.3 125 L557.1 123.7 L558.9 122.5 L560.7 121.4 L562.5 120.4 L564.4 119.5 L566.2 118.6 L568 117.8 L569.8 117.2 L571.6 116.8 L573.5 116.5 L575.3 116.4 L577.1 116.3 L578.9 116.3 L580.7 116.3 L582.6 116.3 L584.4 116.3 L586.2 116.4 L588 116.4 L589.8 116.4 L591.7 116.5 L593.5 116.5 L595.3 116.5 L597.1 116.6 L598.9 116.6 L600.8 116.7 L602.6 116.7 L604.4 116.7 L606.2 116.8 L608 116.8 L609.9 116.9 L611.7 116.9 L613.5 117 L615.3 117.1 L617.1 117.1 L619 117.2 L620.8 117.2 L622.6 117.3 L624.4 117.3 L626.2 117.4 L628.1 117.5 L629.9 117.5 L631.7 117.6 L633.5 117.7 L635.3 117.7 L637.2 117.8 L639 117.9 L640.8 118 L642.6 118.1 L644.4 118.2 L646.3 118.3 L648.1 118.4 L649.9 118.5 L651.7 118.6 L653.5 118.7 L655.4 118.9 L657.2 119 L659 119.2 L660.8 119.3 L662.6 119.5 L664.5 119.7 L666.3 119.8 L668.1 120 L669.9 120.2 L671.7 120.3 L673.6 120.5 L675.4 120.7 L677.2 120.8 L679 120.9 L680.8 121.1 L682.7 121.2 L684.5 121.3 L686.3 121.4 L688.1 121.5 L689.9 121.6" fill="none" stroke="none" marker-start="url(#lb4272c130909)" marker-mid="url(#lb4272c130909)" marker-end="url(#lb4272c130909)"/>
<path d="M668.5 164.3V135.8" stroke="#231f20" stroke-width="1.05"/>
<path d="M668.5 130.8L671.7 137.8L668.5 136.60000000000002L665.3 137.8Z" fill="#231f20"/>
<g stroke="#262626" stroke-width="1.2" fill="none">
<path d="M522.5 233.4V353.5H704.5"/>
<path d="M513.5 353.5H522.5"/>
<path d="M513.5 329.5H522.5"/>
<path d="M513.5 305.5H522.5"/>
<path d="M513.5 281.5H522.5"/>
<path d="M513.5 257.5H522.5"/>
<path d="M513.5 233.5H522.5"/>
<path d="M522.5 353.5V359.7"/>
<path d="M558.5 353.5V359.7"/>
<path d="M595.5 353.5V359.7"/>
<path d="M631.5 353.5V359.7"/>
<path d="M668.5 353.5V359.7"/>
<path d="M704.5 353.5V359.7"/>
</g>
<g fill="#1c1a1b" font-size="11.3">
<text x="511.3" y="358.3" text-anchor="end">0.0</text>
<text x="511.3" y="334.2" text-anchor="end">0.2</text>
<text x="511.3" y="310.2" text-anchor="end">0.4</text>
<text x="511.3" y="286.1" text-anchor="end">0.6</text>
<text x="511.3" y="262.1" text-anchor="end">0.8</text>
<text x="511.3" y="238" text-anchor="end">1.0</text>
<text x="523" y="374" text-anchor="middle">0</text>
<text x="559.4" y="374" text-anchor="middle">5</text>
<text x="595.8" y="374" text-anchor="middle">10</text>
<text x="632.2" y="374" text-anchor="middle">15</text>
<text x="668.6" y="374" text-anchor="middle">20</text>
<text x="705" y="374" text-anchor="middle">25</text>
</g>
<text transform="translate(487.8 288.3) rotate(-90)" font-size="11.3" fill="#1c1a1b" text-anchor="middle">OD<tspan font-size="6.8" dy="2.6" dx="0.3">600</tspan></text>
<text x="535" y="234.2" font-size="11.3" letter-spacing="0.35" fill="#1c1a1b">growth curve (Tarocin A)</text>
<text x="592" y="391" font-size="11.3" letter-spacing="0.05" fill="#1c1a1b">Time (h)</text>
<path d="M522.5 344 L524.3 343.6 L526.1 342.9 L528 342.1 L529.8 340.9 L531.6 339.2 L533.4 337.3 L535.2 334.9 L537.1 332.5 L538.9 330.6 L540.7 328.5 L542.5 325.2 L544.3 321.5 L546.2 317.4 L548 313.7 L549.8 311.2 L551.6 309.1 L553.4 307.3 L555.3 305.7 L557.1 304 L558.9 302.4 L560.7 301 L562.5 299.9 L564.4 299.2 L566.2 298.6 L568 298.2 L569.8 297.9 L571.6 297.7 L573.5 297.5 L575.3 297.3 L577.1 297.1 L578.9 297 L580.7 296.9 L582.6 296.8 L584.4 296.7 L586.2 296.6 L588 296.6 L589.8 296.6 L591.7 296.6 L593.5 296.7 L595.3 296.8 L597.1 296.9 L598.9 297 L600.8 297.2 L602.6 297.4 L604.4 297.6 L606.2 297.8 L608 298 L609.9 298.2 L611.7 298.4 L613.5 298.6 L615.3 298.8 L617.1 299 L619 299.2 L620.8 299.4 L622.6 299.6 L624.4 299.8 L626.2 300 L628.1 300.3 L629.9 300.5 L631.7 300.7 L633.5 300.9 L635.3 301.1 L637.2 301.4 L639 301.6 L640.8 301.8 L642.6 302.1 L644.4 302.3 L646.3 302.5 L648.1 302.7 L649.9 302.9 L651.7 303.2 L653.5 303.4 L655.4 303.6 L657.2 303.8 L659 304 L660.8 304.2 L662.6 304.4 L664.5 304.6 L666.3 304.8 L668.1 305 L669.9 305.2 L671.7 305.3 L673.6 305.5 L675.4 305.7 L677.2 305.8 L679 306 L680.8 306.1 L682.7 306.2 L684.5 306.4 L686.3 306.5 L688.1 306.6 L689.9 306.7" fill="none" stroke="#6fa8dc" stroke-width="1.8" stroke-linejoin="round"/>
<path d="M522.5 344 L524.3 343.6 L526.1 342.9 L528 342.1 L529.8 340.9 L531.6 339.2 L533.4 337.3 L535.2 334.9 L537.1 332.5 L538.9 330.6 L540.7 328.5 L542.5 325.2 L544.3 321.5 L546.2 317.4 L548 313.7 L549.8 311.2 L551.6 309.1 L553.4 307.3 L555.3 305.7 L557.1 304 L558.9 302.4 L560.7 301 L562.5 299.9 L564.4 299.2 L566.2 298.6 L568 298.2 L569.8 297.9 L571.6 297.7 L573.5 297.5 L575.3 297.3 L577.1 297.1 L578.9 297 L580.7 296.9 L582.6 296.8 L584.4 296.7 L586.2 296.6 L588 296.6 L589.8 296.6 L591.7 296.6 L593.5 296.7 L595.3 296.8 L597.1 296.9 L598.9 297 L600.8 297.2 L602.6 297.4 L604.4 297.6 L606.2 297.8 L608 298 L609.9 298.2 L611.7 298.4 L613.5 298.6 L615.3 298.8 L617.1 299 L619 299.2 L620.8 299.4 L622.6 299.6 L624.4 299.8 L626.2 300 L628.1 300.3 L629.9 300.5 L631.7 300.7 L633.5 300.9 L635.3 301.1 L637.2 301.4 L639 301.6 L640.8 301.8 L642.6 302.1 L644.4 302.3 L646.3 302.5 L648.1 302.7 L649.9 302.9 L651.7 303.2 L653.5 303.4 L655.4 303.6 L657.2 303.8 L659 304 L660.8 304.2 L662.6 304.4 L664.5 304.6 L666.3 304.8 L668.1 305 L669.9 305.2 L671.7 305.3 L673.6 305.5 L675.4 305.7 L677.2 305.8 L679 306 L680.8 306.1 L682.7 306.2 L684.5 306.4 L686.3 306.5 L688.1 306.6 L689.9 306.7" fill="none" stroke="none" marker-start="url(#l6fa8dc160909)" marker-mid="url(#l6fa8dc160909)" marker-end="url(#l6fa8dc160909)"/>
<path d="M522.5 344 L524.3 343.3 L526.1 342.6 L528 341.9 L529.8 340.5 L531.6 338.6 L533.4 336.4 L535.2 331.8 L537.1 327.1 L538.9 322.4 L540.7 316.5 L542.5 310.5 L544.3 304.5 L546.2 298.6 L548 292.6 L549.8 287.1 L551.6 282.8 L553.4 278.5 L555.3 274.1 L557.1 269.8 L558.9 266.3 L560.7 262.9 L562.5 259.6 L564.4 257.1 L566.2 255.3 L568 254.1 L569.8 254.1 L571.6 254 L573.5 254 L575.3 254.7 L577.1 253.7 L578.9 252.4 L580.7 251.2 L582.6 251.1 L584.4 251.1 L586.2 251 L588 250.9 L589.8 250.9 L591.7 250.8 L593.5 250.8 L595.3 250.7 L597.1 250.6 L598.9 250.6 L600.8 250.5 L602.6 250.4 L604.4 250.4 L606.2 250.3 L608 250.3 L609.9 250.2 L611.7 250.1 L613.5 250 L615.3 249.9 L617.1 249.8 L619 249.8 L620.8 249.7 L622.6 249.6 L624.4 249.5 L626.2 249.4 L628.1 249.3 L629.9 249.2 L631.7 249.1 L633.5 249 L635.3 249 L637.2 248.9 L639 248.8 L640.8 248.7 L642.6 248.6 L644.4 248.5 L646.3 248.4 L648.1 248.3 L649.9 248.2 L651.7 248.2 L653.5 248.1 L655.4 248 L657.2 247.9 L659 247.8 L660.8 247.7 L662.6 247.6 L664.5 247.5 L666.3 247.5 L668.1 247.4 L669.9 247.3 L671.7 247.2 L673.6 247.1 L675.4 247 L677.2 246.9 L679 246.8 L680.8 246.7 L682.7 246.7 L684.5 246.6 L686.3 246.5 L688.1 246.4 L689.9 246.3" fill="none" stroke="#231f20" stroke-width="1.1" stroke-linejoin="round"/>
<path d="M522.5 344 L524.3 343.3 L526.1 342.6 L528 341.9 L529.8 340.5 L531.6 338.6 L533.4 336.4 L535.2 331.8 L537.1 327.1 L538.9 322.4 L540.7 316.5 L542.5 310.5 L544.3 304.5 L546.2 298.6 L548 292.6 L549.8 287.1 L551.6 282.8 L553.4 278.5 L555.3 274.1 L557.1 269.8 L558.9 266.3 L560.7 262.9 L562.5 259.6 L564.4 257.1 L566.2 255.3 L568 254.1 L569.8 254.1 L571.6 254 L573.5 254 L575.3 254.7 L577.1 253.7 L578.9 252.4 L580.7 251.2 L582.6 251.1 L584.4 251.1 L586.2 251 L588 250.9 L589.8 250.9 L591.7 250.8 L593.5 250.8 L595.3 250.7 L597.1 250.6 L598.9 250.6 L600.8 250.5 L602.6 250.4 L604.4 250.4 L606.2 250.3 L608 250.3 L609.9 250.2 L611.7 250.1 L613.5 250 L615.3 249.9 L617.1 249.8 L619 249.8 L620.8 249.7 L622.6 249.6 L624.4 249.5 L626.2 249.4 L628.1 249.3 L629.9 249.2 L631.7 249.1 L633.5 249 L635.3 249 L637.2 248.9 L639 248.8 L640.8 248.7 L642.6 248.6 L644.4 248.5 L646.3 248.4 L648.1 248.3 L649.9 248.2 L651.7 248.2 L653.5 248.1 L655.4 248 L657.2 247.9 L659 247.8 L660.8 247.7 L662.6 247.6 L664.5 247.5 L666.3 247.5 L668.1 247.4 L669.9 247.3 L671.7 247.2 L673.6 247.1 L675.4 247 L677.2 246.9 L679 246.8 L680.8 246.7 L682.7 246.7 L684.5 246.6 L686.3 246.5 L688.1 246.4 L689.9 246.3" fill="none" stroke="none" marker-start="url(#l231f202109510)" marker-mid="url(#l231f202109510)" marker-end="url(#l231f202109510)"/>
<path d="M522.5 344 L524.3 343.6 L526.1 343 L528 342.1 L529.8 340.9 L531.6 339.3 L533.4 337 L535.2 333.5 L537.1 329.2 L538.9 324.3 L540.7 319 L542.5 313.7 L544.3 308.6 L546.2 303.6 L548 298.7 L549.8 294.3 L551.6 290.9 L553.4 288.2 L555.3 286 L557.1 284.1 L558.9 282.3 L560.7 280.7 L562.5 279.2 L564.4 277.8 L566.2 276.6 L568 275.7 L569.8 274.9 L571.6 274.2 L573.5 273.6 L575.3 273.2 L577.1 272.8 L578.9 272.5 L580.7 272.2 L582.6 272 L584.4 271.9 L586.2 271.7 L588 271.6 L589.8 271.6 L591.7 271.5 L593.5 271.5 L595.3 271.5 L597.1 271.5 L598.9 271.6 L600.8 271.6 L602.6 271.6 L604.4 271.6 L606.2 271.6 L608 271.5 L609.9 271.5 L611.7 271.4 L613.5 271.4 L615.3 271.3 L617.1 271.2 L619 271.2 L620.8 271.1 L622.6 271 L624.4 271 L626.2 270.9 L628.1 270.8 L629.9 270.7 L631.7 270.7 L633.5 270.6 L635.3 270.5 L637.2 270.4 L639 270.3 L640.8 270.3 L642.6 270.2 L644.4 270.1 L646.3 270 L648.1 269.9 L649.9 269.9 L651.7 269.8 L653.5 269.7 L655.4 269.6 L657.2 269.6 L659 269.5 L660.8 269.4 L662.6 269.3 L664.5 269.3 L666.3 269.2 L668.1 269.1 L669.9 269.1 L671.7 269 L673.6 268.9 L675.4 268.9 L677.2 268.8 L679 268.8 L680.8 268.7 L682.7 268.7 L684.5 268.6 L686.3 268.6 L688.1 268.5 L689.9 268.5" fill="none" stroke="#2d3c8e" stroke-width="1.7" stroke-linejoin="round"/>
<path d="M522.5 344 L524.3 343.6 L526.1 343 L528 342.1 L529.8 340.9 L531.6 339.3 L533.4 337 L535.2 333.5 L537.1 329.2 L538.9 324.3 L540.7 319 L542.5 313.7 L544.3 308.6 L546.2 303.6 L548 298.7 L549.8 294.3 L551.6 290.9 L553.4 288.2 L555.3 286 L557.1 284.1 L558.9 282.3 L560.7 280.7 L562.5 279.2 L564.4 277.8 L566.2 276.6 L568 275.7 L569.8 274.9 L571.6 274.2 L573.5 273.6 L575.3 273.2 L577.1 272.8 L578.9 272.5 L580.7 272.2 L582.6 272 L584.4 271.9 L586.2 271.7 L588 271.6 L589.8 271.6 L591.7 271.5 L593.5 271.5 L595.3 271.5 L597.1 271.5 L598.9 271.6 L600.8 271.6 L602.6 271.6 L604.4 271.6 L606.2 271.6 L608 271.5 L609.9 271.5 L611.7 271.4 L613.5 271.4 L615.3 271.3 L617.1 271.2 L619 271.2 L620.8 271.1 L622.6 271 L624.4 271 L626.2 270.9 L628.1 270.8 L629.9 270.7 L631.7 270.7 L633.5 270.6 L635.3 270.5 L637.2 270.4 L639 270.3 L640.8 270.3 L642.6 270.2 L644.4 270.1 L646.3 270 L648.1 269.9 L649.9 269.9 L651.7 269.8 L653.5 269.7 L655.4 269.6 L657.2 269.6 L659 269.5 L660.8 269.4 L662.6 269.3 L664.5 269.3 L666.3 269.2 L668.1 269.1 L669.9 269.1 L671.7 269 L673.6 268.9 L675.4 268.9 L677.2 268.8 L679 268.8 L680.8 268.7 L682.7 268.7 L684.5 268.6 L686.3 268.6 L688.1 268.5 L689.9 268.5" fill="none" stroke="none" marker-start="url(#l2d3c8e090909)" marker-mid="url(#l2d3c8e090909)" marker-end="url(#l2d3c8e090909)"/>
<path d="M522.5 344 L524.3 343.6 L526.1 343 L528 342.1 L529.8 340.9 L531.6 339.3 L533.4 337 L535.2 333.5 L537.1 329.2 L538.9 324.2 L540.7 319 L542.5 314.2 L544.3 309.5 L546.2 305.2 L548 301.3 L549.8 297.6 L551.6 294.1 L553.4 290.6 L555.3 287.2 L557.1 283.7 L558.9 280.5 L560.7 278.1 L562.5 276 L564.4 274.2 L566.2 272.5 L568 271.1 L569.8 269.9 L571.6 268.9 L573.5 268 L575.3 267.3 L577.1 266.6 L578.9 266 L580.7 265.4 L582.6 264.9 L584.4 264.5 L586.2 264.1 L588 263.7 L589.8 263.3 L591.7 263 L593.5 262.7 L595.3 262.4 L597.1 262.2 L598.9 261.9 L600.8 261.7 L602.6 261.5 L604.4 261.3 L606.2 261.1 L608 261 L609.9 260.8 L611.7 260.6 L613.5 260.5 L615.3 260.3 L617.1 260.1 L619 260 L620.8 259.8 L622.6 259.6 L624.4 259.5 L626.2 259.3 L628.1 259.1 L629.9 259 L631.7 258.8 L633.5 258.6 L635.3 258.5 L637.2 258.3 L639 258.1 L640.8 258 L642.6 257.8 L644.4 257.6 L646.3 257.5 L648.1 257.3 L649.9 257.2 L651.7 257 L653.5 256.9 L655.4 256.7 L657.2 256.6 L659 256.4 L660.8 256.3 L662.6 256.2 L664.5 256 L666.3 255.9 L668.1 255.8 L669.9 255.7 L671.7 255.5 L673.6 255.4 L675.4 255.3 L677.2 255.2 L679 255.1 L680.8 255 L682.7 254.9 L684.5 254.8 L686.3 254.8 L688.1 254.7 L689.9 254.6" fill="none" stroke="#6b1f70" stroke-width="1.7" stroke-linejoin="round"/>
<path d="M522.5 344 L524.3 343.6 L526.1 343 L528 342.1 L529.8 340.9 L531.6 339.3 L533.4 337 L535.2 333.5 L537.1 329.2 L538.9 324.2 L540.7 319 L542.5 314.2 L544.3 309.5 L546.2 305.2 L548 301.3 L549.8 297.6 L551.6 294.1 L553.4 290.6 L555.3 287.2 L557.1 283.7 L558.9 280.5 L560.7 278.1 L562.5 276 L564.4 274.2 L566.2 272.5 L568 271.1 L569.8 269.9 L571.6 268.9 L573.5 268 L575.3 267.3 L577.1 266.6 L578.9 266 L580.7 265.4 L582.6 264.9 L584.4 264.5 L586.2 264.1 L588 263.7 L589.8 263.3 L591.7 263 L593.5 262.7 L595.3 262.4 L597.1 262.2 L598.9 261.9 L600.8 261.7 L602.6 261.5 L604.4 261.3 L606.2 261.1 L608 261 L609.9 260.8 L611.7 260.6 L613.5 260.5 L615.3 260.3 L617.1 260.1 L619 260 L620.8 259.8 L622.6 259.6 L624.4 259.5 L626.2 259.3 L628.1 259.1 L629.9 259 L631.7 258.8 L633.5 258.6 L635.3 258.5 L637.2 258.3 L639 258.1 L640.8 258 L642.6 257.8 L644.4 257.6 L646.3 257.5 L648.1 257.3 L649.9 257.2 L651.7 257 L653.5 256.9 L655.4 256.7 L657.2 256.6 L659 256.4 L660.8 256.3 L662.6 256.2 L664.5 256 L666.3 255.9 L668.1 255.8 L669.9 255.7 L671.7 255.5 L673.6 255.4 L675.4 255.3 L677.2 255.2 L679 255.1 L680.8 255 L682.7 254.9 L684.5 254.8 L686.3 254.8 L688.1 254.7 L689.9 254.6" fill="none" stroke="none" marker-start="url(#l6b1f70060909)" marker-mid="url(#l6b1f70060909)" marker-end="url(#l6b1f70060909)"/>
<path d="M522.5 344 L524.3 343.6 L526.1 343 L528 342.1 L529.8 340.9 L531.6 339.3 L533.4 337 L535.2 333.5 L537.1 329.2 L538.9 324.3 L540.7 319 L542.5 313.8 L544.3 308.6 L546.2 303.5 L548 298.2 L549.8 293.7 L551.6 290.5 L553.4 288.4 L555.3 286.8 L557.1 285.4 L558.9 283.9 L560.7 282.5 L562.5 281.4 L564.4 280.4 L566.2 279.5 L568 278.7 L569.8 278.1 L571.6 277.9 L573.5 277.7 L575.3 277.6 L577.1 277.5 L578.9 277.4 L580.7 277.3 L582.6 277.2 L584.4 277.1 L586.2 277.1 L588 277 L589.8 277 L591.7 277 L593.5 276.9 L595.3 276.9 L597.1 276.9 L598.9 276.9 L600.8 276.8 L602.6 276.8 L604.4 276.7 L606.2 276.7 L608 276.6 L609.9 276.5 L611.7 276.4 L613.5 276.3 L615.3 276.2 L617.1 276.1 L619 276 L620.8 275.9 L622.6 275.7 L624.4 275.6 L626.2 275.5 L628.1 275.4 L629.9 275.2 L631.7 275.1 L633.5 275 L635.3 274.9 L637.2 274.7 L639 274.6 L640.8 274.5 L642.6 274.3 L644.4 274.2 L646.3 274.1 L648.1 273.9 L649.9 273.8 L651.7 273.7 L653.5 273.6 L655.4 273.4 L657.2 273.3 L659 273.2 L660.8 273.1 L662.6 273 L664.5 272.8 L666.3 272.7 L668.1 272.6 L669.9 272.5 L671.7 272.4 L673.6 272.3 L675.4 272.2 L677.2 272.1 L679 272 L680.8 271.9 L682.7 271.9 L684.5 271.8 L686.3 271.7 L688.1 271.7 L689.9 271.6" fill="none" stroke="#207a3d" stroke-width="1.8" stroke-linejoin="round"/>
<path d="M522.5 344 L524.3 343.6 L526.1 343 L528 342.1 L529.8 340.9 L531.6 339.3 L533.4 337 L535.2 333.5 L537.1 329.2 L538.9 324.3 L540.7 319 L542.5 313.8 L544.3 308.6 L546.2 303.5 L548 298.2 L549.8 293.7 L551.6 290.5 L553.4 288.4 L555.3 286.8 L557.1 285.4 L558.9 283.9 L560.7 282.5 L562.5 281.4 L564.4 280.4 L566.2 279.5 L568 278.7 L569.8 278.1 L571.6 277.9 L573.5 277.7 L575.3 277.6 L577.1 277.5 L578.9 277.4 L580.7 277.3 L582.6 277.2 L584.4 277.1 L586.2 277.1 L588 277 L589.8 277 L591.7 277 L593.5 276.9 L595.3 276.9 L597.1 276.9 L598.9 276.9 L600.8 276.8 L602.6 276.8 L604.4 276.7 L606.2 276.7 L608 276.6 L609.9 276.5 L611.7 276.4 L613.5 276.3 L615.3 276.2 L617.1 276.1 L619 276 L620.8 275.9 L622.6 275.7 L624.4 275.6 L626.2 275.5 L628.1 275.4 L629.9 275.2 L631.7 275.1 L633.5 275 L635.3 274.9 L637.2 274.7 L639 274.6 L640.8 274.5 L642.6 274.3 L644.4 274.2 L646.3 274.1 L648.1 273.9 L649.9 273.8 L651.7 273.7 L653.5 273.6 L655.4 273.4 L657.2 273.3 L659 273.2 L660.8 273.1 L662.6 273 L664.5 272.8 L666.3 272.7 L668.1 272.6 L669.9 272.5 L671.7 272.4 L673.6 272.3 L675.4 272.2 L677.2 272.1 L679 272 L680.8 271.9 L682.7 271.9 L684.5 271.8 L686.3 271.7 L688.1 271.7 L689.9 271.6" fill="none" stroke="none" marker-start="url(#l207a3d170909)" marker-mid="url(#l207a3d170909)" marker-end="url(#l207a3d170909)"/>
<path d="M522.5 344 L524.3 343.6 L526.1 343 L528 342.1 L529.8 340.9 L531.6 339.3 L533.4 337 L535.2 333.5 L537.1 329.2 L538.9 324.3 L540.7 319 L542.5 313.7 L544.3 308.6 L546.2 303.6 L548 298.5 L549.8 294.2 L551.6 291 L553.4 288.9 L555.3 287.3 L557.1 285.9 L558.9 284.4 L560.7 283.3 L562.5 282.4 L564.4 281.5 L566.2 280.5 L568 279.7 L569.8 279.1 L571.6 278.9 L573.5 278.7 L575.3 278.6 L577.1 278.5 L578.9 278.4 L580.7 278.3 L582.6 278.2 L584.4 278.1 L586.2 278.1 L588 278 L589.8 278 L591.7 278 L593.5 277.9 L595.3 277.9 L597.1 277.9 L598.9 277.8 L600.8 277.8 L602.6 277.8 L604.4 277.7 L606.2 277.7 L608 277.6 L609.9 277.5 L611.7 277.4 L613.5 277.3 L615.3 277.2 L617.1 277.1 L619 277 L620.8 276.9 L622.6 276.8 L624.4 276.6 L626.2 276.5 L628.1 276.4 L629.9 276.3 L631.7 276.2 L633.5 276 L635.3 275.9 L637.2 275.8 L639 275.7 L640.8 275.5 L642.6 275.4 L644.4 275.3 L646.3 275.2 L648.1 275 L649.9 274.9 L651.7 274.8 L653.5 274.7 L655.4 274.6 L657.2 274.4 L659 274.3 L660.8 274.2 L662.6 274.1 L664.5 274 L666.3 273.9 L668.1 273.8 L669.9 273.7 L671.7 273.6 L673.6 273.5 L675.4 273.4 L677.2 273.3 L679 273.2 L680.8 273.1 L682.7 273.1 L684.5 273 L686.3 272.9 L688.1 272.9 L689.9 272.8" fill="none" stroke="#8c9c3a" stroke-width="1.8" stroke-linejoin="round"/>
<path d="M522.5 344 L524.3 343.6 L526.1 343 L528 342.1 L529.8 340.9 L531.6 339.3 L533.4 337 L535.2 333.5 L537.1 329.2 L538.9 324.3 L540.7 319 L542.5 313.7 L544.3 308.6 L546.2 303.6 L548 298.5 L549.8 294.2 L551.6 291 L553.4 288.9 L555.3 287.3 L557.1 285.9 L558.9 284.4 L560.7 283.3 L562.5 282.4 L564.4 281.5 L566.2 280.5 L568 279.7 L569.8 279.1 L571.6 278.9 L573.5 278.7 L575.3 278.6 L577.1 278.5 L578.9 278.4 L580.7 278.3 L582.6 278.2 L584.4 278.1 L586.2 278.1 L588 278 L589.8 278 L591.7 278 L593.5 277.9 L595.3 277.9 L597.1 277.9 L598.9 277.8 L600.8 277.8 L602.6 277.8 L604.4 277.7 L606.2 277.7 L608 277.6 L609.9 277.5 L611.7 277.4 L613.5 277.3 L615.3 277.2 L617.1 277.1 L619 277 L620.8 276.9 L622.6 276.8 L624.4 276.6 L626.2 276.5 L628.1 276.4 L629.9 276.3 L631.7 276.2 L633.5 276 L635.3 275.9 L637.2 275.8 L639 275.7 L640.8 275.5 L642.6 275.4 L644.4 275.3 L646.3 275.2 L648.1 275 L649.9 274.9 L651.7 274.8 L653.5 274.7 L655.4 274.6 L657.2 274.4 L659 274.3 L660.8 274.2 L662.6 274.1 L664.5 274 L666.3 273.9 L668.1 273.8 L669.9 273.7 L671.7 273.6 L673.6 273.5 L675.4 273.4 L677.2 273.3 L679 273.2 L680.8 273.1 L682.7 273.1 L684.5 273 L686.3 272.9 L688.1 272.9 L689.9 272.8" fill="none" stroke="none" marker-start="url(#l8c9c3a170909)" marker-mid="url(#l8c9c3a170909)" marker-end="url(#l8c9c3a170909)"/>
<path d="M522.5 344 L524.3 343.6 L526.1 343 L528 342.1 L529.8 340.9 L531.6 339.3 L533.4 337 L535.2 333.5 L537.1 329.2 L538.9 324.3 L540.7 319 L542.5 313.8 L544.3 308.8 L546.2 303.9 L548 299.7 L549.8 297.1 L551.6 295.3 L553.4 293.8 L555.3 292.1 L557.1 290.4 L558.9 288.7 L560.7 287.1 L562.5 285.9 L564.4 285 L566.2 284.3 L568 283.9 L569.8 283.6 L571.6 283.4 L573.5 283.2 L575.3 283.1 L577.1 283 L578.9 282.9 L580.7 282.8 L582.6 282.7 L584.4 282.6 L586.2 282.5 L588 282.4 L589.8 282.4 L591.7 282.3 L593.5 282.2 L595.3 282.2 L597.1 282.1 L598.9 282 L600.8 282 L602.6 281.9 L604.4 281.8 L606.2 281.7 L608 281.6 L609.9 281.5 L611.7 281.4 L613.5 281.3 L615.3 281.1 L617.1 281 L619 280.9 L620.8 280.8 L622.6 280.6 L624.4 280.5 L626.2 280.3 L628.1 280.2 L629.9 280.1 L631.7 279.9 L633.5 279.8 L635.3 279.6 L637.2 279.5 L639 279.3 L640.8 279.2 L642.6 279 L644.4 278.9 L646.3 278.8 L648.1 278.6 L649.9 278.5 L651.7 278.3 L653.5 278.2 L655.4 278 L657.2 277.9 L659 277.8 L660.8 277.6 L662.6 277.5 L664.5 277.4 L666.3 277.3 L668.1 277.1 L669.9 277 L671.7 276.9 L673.6 276.8 L675.4 276.7 L677.2 276.6 L679 276.5 L680.8 276.4 L682.7 276.3 L684.5 276.2 L686.3 276.1 L688.1 276.1 L689.9 276" fill="none" stroke="#dc7a2c" stroke-width="1.8" stroke-linejoin="round"/>
<path d="M522.5 344 L524.3 343.6 L526.1 343 L528 342.1 L529.8 340.9 L531.6 339.3 L533.4 337 L535.2 333.5 L537.1 329.2 L538.9 324.3 L540.7 319 L542.5 313.8 L544.3 308.8 L546.2 303.9 L548 299.7 L549.8 297.1 L551.6 295.3 L553.4 293.8 L555.3 292.1 L557.1 290.4 L558.9 288.7 L560.7 287.1 L562.5 285.9 L564.4 285 L566.2 284.3 L568 283.9 L569.8 283.6 L571.6 283.4 L573.5 283.2 L575.3 283.1 L577.1 283 L578.9 282.9 L580.7 282.8 L582.6 282.7 L584.4 282.6 L586.2 282.5 L588 282.4 L589.8 282.4 L591.7 282.3 L593.5 282.2 L595.3 282.2 L597.1 282.1 L598.9 282 L600.8 282 L602.6 281.9 L604.4 281.8 L606.2 281.7 L608 281.6 L609.9 281.5 L611.7 281.4 L613.5 281.3 L615.3 281.1 L617.1 281 L619 280.9 L620.8 280.8 L622.6 280.6 L624.4 280.5 L626.2 280.3 L628.1 280.2 L629.9 280.1 L631.7 279.9 L633.5 279.8 L635.3 279.6 L637.2 279.5 L639 279.3 L640.8 279.2 L642.6 279 L644.4 278.9 L646.3 278.8 L648.1 278.6 L649.9 278.5 L651.7 278.3 L653.5 278.2 L655.4 278 L657.2 277.9 L659 277.8 L660.8 277.6 L662.6 277.5 L664.5 277.4 L666.3 277.3 L668.1 277.1 L669.9 277 L671.7 276.9 L673.6 276.8 L675.4 276.7 L677.2 276.6 L679 276.5 L680.8 276.4 L682.7 276.3 L684.5 276.2 L686.3 276.1 L688.1 276.1 L689.9 276" fill="none" stroke="none" marker-start="url(#ldc7a2c170909)" marker-mid="url(#ldc7a2c170909)" marker-end="url(#ldc7a2c170909)"/>
<path d="M522.5 344 L524.3 343.6 L526.1 343 L528 342.1 L529.8 340.9 L531.6 339.3 L533.4 337 L535.2 333.5 L537.1 329.2 L538.9 324.3 L540.7 319 L542.5 313.9 L544.3 308.6 L546.2 302.9 L548 297.4 L549.8 294.3 L551.6 292.4 L553.4 290.8 L555.3 289.1 L557.1 287.4 L558.9 285.7 L560.7 284.2 L562.5 282.9 L564.4 281.7 L566.2 280.6 L568 279.7 L569.8 279.1 L571.6 278.9 L573.5 278.8 L575.3 278.7 L577.1 278.6 L578.9 278.5 L580.7 278.5 L582.6 278.5 L584.4 278.4 L586.2 278.5 L588 278.5 L589.8 278.5 L591.7 278.5 L593.5 278.6 L595.3 278.6 L597.1 278.6 L598.9 278.6 L600.8 278.6 L602.6 278.7 L604.4 278.6 L606.2 278.6 L608 278.6 L609.9 278.5 L611.7 278.4 L613.5 278.3 L615.3 278.2 L617.1 278.1 L619 278 L620.8 277.9 L622.6 277.8 L624.4 277.7 L626.2 277.6 L628.1 277.5 L629.9 277.4 L631.7 277.3 L633.5 277.1 L635.3 277 L637.2 276.9 L639 276.8 L640.8 276.6 L642.6 276.5 L644.4 276.4 L646.3 276.3 L648.1 276.1 L649.9 276 L651.7 275.9 L653.5 275.8 L655.4 275.6 L657.2 275.5 L659 275.4 L660.8 275.3 L662.6 275.1 L664.5 275 L666.3 274.9 L668.1 274.8 L669.9 274.7 L671.7 274.6 L673.6 274.5 L675.4 274.4 L677.2 274.3 L679 274.2 L680.8 274.1 L682.7 274.1 L684.5 274 L686.3 273.9 L688.1 273.9 L689.9 273.8" fill="none" stroke="#b4272c" stroke-width="1.8" stroke-linejoin="round"/>
<path d="M522.5 344 L524.3 343.6 L526.1 343 L528 342.1 L529.8 340.9 L531.6 339.3 L533.4 337 L535.2 333.5 L537.1 329.2 L538.9 324.3 L540.7 319 L542.5 313.9 L544.3 308.6 L546.2 302.9 L548 297.4 L549.8 294.3 L551.6 292.4 L553.4 290.8 L555.3 289.1 L557.1 287.4 L558.9 285.7 L560.7 284.2 L562.5 282.9 L564.4 281.7 L566.2 280.6 L568 279.7 L569.8 279.1 L571.6 278.9 L573.5 278.8 L575.3 278.7 L577.1 278.6 L578.9 278.5 L580.7 278.5 L582.6 278.5 L584.4 278.4 L586.2 278.5 L588 278.5 L589.8 278.5 L591.7 278.5 L593.5 278.6 L595.3 278.6 L597.1 278.6 L598.9 278.6 L600.8 278.6 L602.6 278.7 L604.4 278.6 L606.2 278.6 L608 278.6 L609.9 278.5 L611.7 278.4 L613.5 278.3 L615.3 278.2 L617.1 278.1 L619 278 L620.8 277.9 L622.6 277.8 L624.4 277.7 L626.2 277.6 L628.1 277.5 L629.9 277.4 L631.7 277.3 L633.5 277.1 L635.3 277 L637.2 276.9 L639 276.8 L640.8 276.6 L642.6 276.5 L644.4 276.4 L646.3 276.3 L648.1 276.1 L649.9 276 L651.7 275.9 L653.5 275.8 L655.4 275.6 L657.2 275.5 L659 275.4 L660.8 275.3 L662.6 275.1 L664.5 275 L666.3 274.9 L668.1 274.8 L669.9 274.7 L671.7 274.6 L673.6 274.5 L675.4 274.4 L677.2 274.3 L679 274.2 L680.8 274.1 L682.7 274.1 L684.5 274 L686.3 273.9 L688.1 273.9 L689.9 273.8" fill="none" stroke="none" marker-start="url(#lb4272c170909)" marker-mid="url(#lb4272c170909)" marker-end="url(#lb4272c170909)"/>
<path d="M668.5 351.6V323.8" stroke="#231f20" stroke-width="1.05"/>
<path d="M668.5 318.8L671.7 325.8L668.5 324.6L665.3 325.8Z" fill="#231f20"/>
<path d="M710.2 5.1H734.8" stroke="#231f20" stroke-width="1.9"/>
<circle cx="722.5" cy="5.1" r="2.2" fill="#231f20"/>
<text x="740.3" y="9.4" font-size="10.5" letter-spacing="0.8" fill="#1c1a1b">control</text>
<path d="M710.2 23.3H734.8" stroke="#6b1f70" stroke-width="1.9"/>
<circle cx="722.5" cy="23.3" r="2.2" fill="#6b1f70"/>
<text x="740.3" y="27.1" font-size="10.5" letter-spacing="0.8" fill="#1c1a1b">0.25 µg/mL</text>
<path d="M710.2 41.5H734.8" stroke="#2d3c8e" stroke-width="1.9"/>
<circle cx="722.5" cy="41.5" r="2.2" fill="#2d3c8e"/>
<text x="740.3" y="44.9" font-size="10.5" letter-spacing="0.8" fill="#1c1a1b">0.5 µg/mL</text>
<path d="M710.2 59.7H734.8" stroke="#207a3d" stroke-width="1.9"/>
<circle cx="722.5" cy="59.7" r="2.2" fill="#207a3d"/>
<text x="740.3" y="62.6" font-size="10.5" letter-spacing="0.8" fill="#1c1a1b">1 µg/mL</text>
<path d="M710.2 77.9H734.8" stroke="#8c9c3a" stroke-width="1.9"/>
<circle cx="722.5" cy="77.9" r="2.2" fill="#8c9c3a"/>
<text x="740.3" y="80.4" font-size="10.5" letter-spacing="0.8" fill="#1c1a1b">2 µg/mL</text>
<path d="M710.2 96.1H734.8" stroke="#dc7a2c" stroke-width="1.9"/>
<circle cx="722.5" cy="96.1" r="2.2" fill="#dc7a2c"/>
<text x="740.3" y="98.2" font-size="10.5" letter-spacing="0.8" fill="#1c1a1b">4 µg/mL</text>
<path d="M710.2 114.3H734.8" stroke="#b4272c" stroke-width="1.9"/>
<circle cx="722.5" cy="114.3" r="2.2" fill="#b4272c"/>
<text x="740.3" y="115.9" font-size="10.5" letter-spacing="0.8" fill="#1c1a1b">8 µg/mL</text>
<path d="M710.2 132.5H734.8" stroke="#6fa8dc" stroke-width="1.9"/>
<circle cx="722.5" cy="132.5" r="2.2" fill="#6fa8dc"/>
<text x="740.3" y="133.7" font-size="10.5" letter-spacing="0.8" fill="#1c1a1b">Δ<tspan font-style="italic">tarO</tspan></text>
</svg>
</body></html>
